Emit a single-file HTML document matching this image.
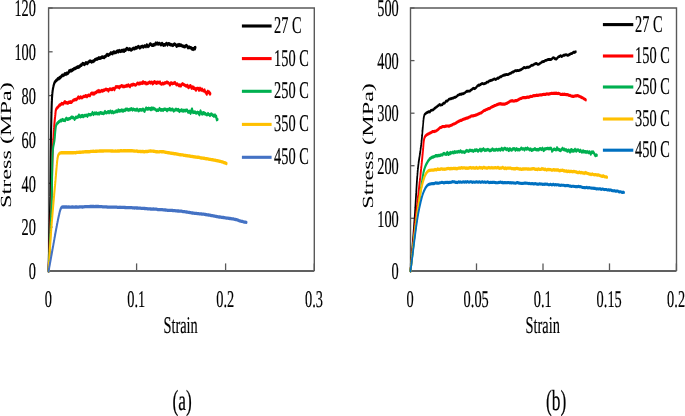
<!DOCTYPE html>
<html><head><meta charset="utf-8"><style>
html,body{margin:0;padding:0;background:#fff;}
svg{display:block;}
#w{width:685px;height:416px;will-change:transform;}
text{font-family:"Liberation Serif",serif;fill:#000;stroke:#000;stroke-width:0.8px;text-rendering:geometricPrecision;}
</style></head><body>
<div id="w"><svg width="685" height="416" viewBox="0 0 685 416">
<rect width="685" height="416" fill="#fff"/>
<polyline points="48.6,270.9 48.6,8.0 314.3,8.0 314.3,270.9" fill="none" stroke="#595959" stroke-width="1.4"/>
<line x1="48.6" y1="270.9" x2="52.6" y2="270.9" stroke="#595959" stroke-width="1.3"/>
<text transform="translate(36.0,279.2) scale(0.1440,0.2400)" text-anchor="end" font-size="100">0</text>
<line x1="48.6" y1="227.1" x2="52.6" y2="227.1" stroke="#595959" stroke-width="1.3"/>
<text transform="translate(36.0,235.38333333333333) scale(0.1440,0.2400)" text-anchor="end" font-size="100">20</text>
<line x1="48.6" y1="183.3" x2="52.6" y2="183.3" stroke="#595959" stroke-width="1.3"/>
<text transform="translate(36.0,191.56666666666666) scale(0.1440,0.2400)" text-anchor="end" font-size="100">40</text>
<line x1="48.6" y1="139.4" x2="52.6" y2="139.4" stroke="#595959" stroke-width="1.3"/>
<text transform="translate(36.0,147.75) scale(0.1440,0.2400)" text-anchor="end" font-size="100">60</text>
<line x1="48.6" y1="95.6" x2="52.6" y2="95.6" stroke="#595959" stroke-width="1.3"/>
<text transform="translate(36.0,103.93333333333332) scale(0.1440,0.2400)" text-anchor="end" font-size="100">80</text>
<line x1="48.6" y1="51.8" x2="52.6" y2="51.8" stroke="#595959" stroke-width="1.3"/>
<text transform="translate(36.0,60.11666666666666) scale(0.1440,0.2400)" text-anchor="end" font-size="100">100</text>
<line x1="48.6" y1="8.0" x2="52.6" y2="8.0" stroke="#595959" stroke-width="1.3"/>
<text transform="translate(36.0,16.3) scale(0.1440,0.2400)" text-anchor="end" font-size="100">120</text>
<line x1="48.6" y1="270.9" x2="48.6" y2="263.4" stroke="#595959" stroke-width="1.3"/>
<text transform="translate(48.300000000000004,307.3) scale(0.1440,0.2400)" text-anchor="middle" font-size="100">0</text>
<line x1="136.6" y1="270.9" x2="136.6" y2="263.4" stroke="#595959" stroke-width="1.3"/>
<text transform="translate(136.29999999999998,307.3) scale(0.1440,0.2400)" text-anchor="middle" font-size="100">0.1</text>
<line x1="225.6" y1="270.9" x2="225.6" y2="263.4" stroke="#595959" stroke-width="1.3"/>
<text transform="translate(225.29999999999998,307.3) scale(0.1440,0.2400)" text-anchor="middle" font-size="100">0.2</text>
<line x1="314.3" y1="270.9" x2="314.3" y2="263.4" stroke="#595959" stroke-width="1.3"/>
<text transform="translate(314.0,307.3) scale(0.1440,0.2400)" text-anchor="middle" font-size="100">0.3</text>
<line x1="48.6" y1="270.9" x2="314.3" y2="270.9" stroke="#606060" stroke-width="2"/>
<polyline transform="scale(0.6,1)" points="81.00,270.9 81.02,270.4 81.04,269.9 81.06,269.4 81.08,268.9 81.10,268.4 81.12,267.9 81.15,267.3 81.17,266.8 81.19,266.3 81.21,265.8 81.23,265.3 81.25,264.8 81.27,264.3 81.29,263.8 81.31,263.2 81.33,262.7 81.36,262.2 81.38,261.7 81.40,261.2 81.42,260.7 81.44,260.1 81.46,259.6 81.48,259.1 81.50,258.6 81.53,258.1 81.55,257.6 81.57,257.0 81.59,256.5 81.61,256.0 81.63,255.5 81.65,255.0 81.67,254.4 81.70,253.9 81.72,253.4 81.74,252.9 81.76,252.4 81.78,251.9 81.80,251.3 81.82,250.8 81.84,250.3 81.86,249.8 81.89,249.3 81.91,248.8 81.93,248.3 81.95,247.7 81.97,247.2 81.99,246.7 82.01,246.2 82.03,245.7 82.05,245.2 82.07,244.7 82.09,244.2 82.11,243.7 82.14,243.2 82.16,242.7 82.18,242.2 82.20,241.7 82.22,241.2 82.24,240.7 82.26,240.2 82.28,239.7 82.30,239.2 82.32,238.7 82.34,238.2 82.36,237.7 82.38,237.2 82.40,236.7 82.42,236.2 82.44,235.7 82.46,235.2 82.48,234.7 82.50,234.3 82.52,233.8 82.53,233.3 82.55,232.8 82.57,232.4 82.59,231.9 82.61,231.4 82.63,230.9 82.65,230.5 82.67,230.0 82.69,229.5 82.71,228.9 82.73,228.4 82.75,227.9 82.77,227.4 82.80,226.8 82.82,226.3 82.84,225.8 82.86,225.3 82.88,224.8 82.90,224.3 82.92,223.8 82.94,223.3 82.96,222.8 82.99,222.4 83.01,221.9 83.03,221.4 83.05,220.9 83.07,220.4 83.09,219.9 83.11,219.5 83.13,219.0 83.15,218.5 83.17,218.0 83.19,217.6 83.21,217.1 83.23,216.6 83.25,216.1 83.27,215.7 83.29,215.2 83.31,214.7 83.33,214.2 83.35,213.8 83.37,213.3 83.39,212.8 83.41,212.3 83.43,211.8 83.45,211.4 83.47,210.9 83.49,210.4 83.51,209.9 83.52,209.4 83.54,208.9 83.56,208.4 83.58,207.9 83.60,207.4 83.62,206.9 83.63,206.4 83.65,205.9 83.67,205.4 83.69,204.9 83.70,204.3 83.72,203.8 83.74,203.3 83.75,202.8 83.77,202.2 83.79,201.7 83.80,201.1 83.82,200.6 83.83,200.0 83.85,199.6 83.86,199.1 83.87,198.7 83.88,198.2 83.89,197.8 83.90,197.3 83.91,196.8 83.93,196.4 83.94,195.9 83.95,195.4 83.96,195.0 83.97,194.5 83.98,194.0 83.99,193.5 84.00,193.0 84.01,192.5 84.02,192.0 84.03,191.5 84.04,191.0 84.05,190.5 84.06,190.0 84.06,189.5 84.07,189.0 84.08,188.5 84.09,188.0 84.10,187.5 84.11,187.0 84.12,186.4 84.13,185.9 84.14,185.4 84.14,184.9 84.15,184.3 84.16,183.8 84.17,183.3 84.18,182.8 84.18,182.2 84.19,181.7 84.20,181.2 84.21,180.6 84.22,180.1 84.22,179.6 84.23,179.0 84.24,178.5 84.25,177.9 84.25,177.4 84.26,176.9 84.27,176.3 84.27,175.8 84.28,175.3 84.29,174.7 84.30,174.2 84.30,173.6 84.31,173.1 84.32,172.6 84.33,172.0 84.33,171.5 84.34,171.0 84.35,170.4 84.35,169.9 84.36,169.4 84.37,168.8 84.37,168.3 84.38,167.8 84.39,167.3 84.40,166.7 84.40,166.2 84.41,165.7 84.42,165.2 84.42,164.7 84.43,164.1 84.44,163.6 84.45,163.1 84.45,162.6 84.46,162.1 84.47,161.6 84.47,161.1 84.48,160.6 84.49,160.1 84.50,159.6 84.50,159.1 84.51,158.6 84.52,158.1 84.53,157.6 84.53,157.2 84.54,156.7 84.55,156.2 84.56,155.7 84.57,155.3 84.57,154.8 84.58,154.4 84.59,153.9 84.60,153.5 84.61,153.0 84.61,152.6 84.62,152.1 84.63,151.7 84.64,151.3 84.65,150.8 84.66,150.4 84.67,150.0 84.68,149.4 84.69,148.8 84.70,148.3 84.72,147.7 84.73,147.2 84.74,146.6 84.75,146.1 84.76,145.5 84.78,145.0 84.79,144.5 84.80,143.9 84.81,143.4 84.82,142.9 84.83,142.4 84.85,141.9 84.86,141.4 84.87,140.9 84.88,140.4 84.89,139.9 84.90,139.4 84.92,138.9 84.93,138.4 84.94,137.9 84.95,137.4 84.96,137.0 84.98,136.5 84.99,136.0 85.00,135.5 85.01,135.1 85.03,134.6 85.04,134.1 85.05,133.6 85.07,133.2 85.08,132.7 85.09,132.2 85.11,131.8 85.12,131.3 85.14,130.8 85.15,130.3 85.17,129.9 85.18,129.4 85.20,128.9 85.21,128.4 85.23,127.9 85.25,127.5 85.26,127.0 85.28,126.5 85.30,126.0 85.32,125.5 85.33,125.0 85.35,124.5 85.37,124.0 85.39,123.5 85.41,123.0 85.43,122.4 85.45,121.9 85.46,121.4 85.48,120.9 85.50,120.3 85.52,119.8 85.54,119.2 85.56,118.7 85.58,118.2 85.60,117.6 85.62,117.1 85.64,116.5 85.66,116.0 85.68,115.4 85.71,114.9 85.73,114.3 85.75,113.8 85.77,113.2 85.79,112.7 85.82,112.2 85.84,111.6 85.86,111.1 85.88,110.6 85.91,110.0 85.93,109.5 85.95,109.0 85.98,108.5 86.00,108.0 86.03,107.5 86.05,107.0 86.08,106.5 86.10,106.0 86.13,105.5 86.16,105.0 86.18,104.6 86.21,104.1 86.24,103.7 86.26,103.2 86.29,102.8 86.32,102.4 86.35,101.9 86.38,101.5 86.41,101.1 86.44,100.7 86.47,100.4 86.50,100.0 86.55,99.4 86.61,98.8 86.67,98.2 86.72,97.6 86.78,97.1 86.84,96.6 86.89,96.0 86.95,95.5 87.02,95.1 87.08,94.6 87.14,94.1 87.21,93.7 87.28,93.3 87.35,92.8 87.42,92.4 87.50,92.0 87.61,91.4 87.71,90.9 87.81,90.4 87.92,90.0 88.03,89.5 88.17,89.0 88.32,88.5 88.50,88.0 88.67,87.5 88.84,87.0 89.03,86.5 89.22,85.9 89.43,85.4 89.65,84.9 89.90,84.3 90.17,83.8 90.47,83.3 90.80,82.8 91.17,82.4 91.65,81.9 92.17,81.5 92.74,81.1 93.34,80.7 93.97,80.4 94.62,80.0 95.30,79.7 96.00,79.0 96.63,78.7 97.29,78.6 97.97,78.8 98.67,78.3 99.39,77.5 100.12,77.7 100.87,77.5 101.63,76.8 102.39,76.3 103.17,75.8 103.89,75.2 104.63,75.5 105.39,75.4 106.15,74.9 106.93,74.9 107.72,74.0 108.51,73.8 109.30,74.1 110.10,74.4 110.90,73.2 111.70,73.4 112.50,73.6 113.23,73.2 113.97,72.9 114.71,71.6 115.46,70.8 116.21,71.4 116.96,70.8 117.71,70.5 118.46,70.3 119.22,70.8 119.97,70.5 120.73,69.8 121.49,69.9 122.24,69.4 123.00,69.0 123.79,68.7 124.59,68.5 125.39,68.5 126.20,68.1 127.01,67.7 127.82,67.8 128.63,67.1 129.43,67.1 130.23,67.2 131.02,67.1 131.80,66.5 132.57,66.8 133.33,66.1 134.12,65.4 134.87,65.1 135.61,65.3 136.33,64.8 137.05,64.0 137.78,63.6 138.51,63.7 139.26,63.7 140.03,64.3 140.83,64.4 141.67,64.0 142.41,63.3 143.17,62.8 143.96,62.9 144.76,63.3 145.58,63.6 146.42,62.9 147.27,62.1 148.12,61.8 148.99,61.4 149.85,61.1 150.72,61.2 151.59,61.5 152.45,61.9 153.31,61.4 154.16,61.6 155.00,61.5 155.78,60.9 156.55,61.0 157.31,60.5 158.06,59.8 158.81,59.7 159.56,59.5 160.31,59.2 161.06,59.1 161.82,59.1 162.58,59.0 163.36,58.4 164.14,58.2 164.94,57.7 165.76,58.2 166.60,58.3 167.45,58.0 168.33,57.8 169.04,57.7 169.76,57.0 170.51,57.0 171.27,57.3 172.05,57.3 172.84,57.3 173.65,57.6 174.47,56.7 175.29,56.6 176.13,56.5 176.97,55.6 177.82,54.8 178.68,54.5 179.53,55.0 180.39,55.3 181.25,54.9 182.10,54.4 182.96,54.1 183.80,53.8 184.64,52.9 185.47,53.4 186.30,53.2 187.11,52.9 187.91,53.6 188.69,52.4 189.46,51.9 190.22,52.0 190.95,52.6 191.67,52.2 192.61,52.4 193.53,52.4 194.44,51.8 195.32,51.0 196.19,51.3 197.04,51.9 197.89,50.9 198.72,50.6 199.55,51.0 200.37,51.4 201.19,51.2 202.01,51.0 202.83,50.5 203.66,51.0 204.49,50.7 205.33,50.0 206.20,51.1 207.05,51.3 207.89,50.1 208.72,50.1 209.55,50.3 210.38,49.1 211.21,48.4 212.04,48.7 212.88,49.1 213.74,49.2 214.61,49.6 215.51,49.3 216.42,48.8 217.36,49.5 218.33,50.1 219.05,49.9 219.78,49.5 220.53,49.0 221.30,48.9 222.08,48.3 222.88,48.6 223.69,48.5 224.51,48.8 225.33,48.3 226.17,47.6 227.02,47.9 227.87,48.1 228.72,47.2 229.58,47.0 230.45,46.7 231.31,46.6 232.17,47.5 233.04,47.9 233.90,47.5 234.75,47.0 235.60,46.7 236.45,46.6 237.29,46.3 238.12,46.8 238.94,47.0 239.75,46.7 240.55,46.0 241.33,45.9 242.21,46.1 243.07,46.6 243.93,45.8 244.79,44.9 245.63,45.8 246.47,46.5 247.31,46.2 248.15,45.9 248.98,45.1 249.80,44.1 250.63,43.9 251.45,44.3 252.27,44.8 253.09,45.2 253.91,45.2 254.73,45.0 255.55,45.2 256.37,44.7 257.19,44.5 258.01,44.8 258.84,43.9 259.67,43.1 260.52,43.7 261.38,43.9 262.23,43.1 263.07,43.8 263.92,44.0 264.76,43.5 265.60,43.4 266.45,43.8 267.29,44.2 268.13,44.8 268.98,44.4 269.82,43.4 270.67,43.7 271.53,44.7 272.39,45.2 273.25,44.7 274.12,44.7 275.00,45.1 275.88,44.4 276.77,43.8 277.67,43.4 278.49,44.1 279.32,44.9 280.16,43.9 281.01,43.8 281.87,43.7 282.73,44.3 283.60,44.7 284.48,44.5 285.36,44.8 286.25,44.9 287.13,45.0 288.02,45.4 288.91,45.1 289.79,44.4 290.68,44.1 291.56,44.2 292.44,44.7 293.31,45.1 294.18,46.3 295.04,46.1 295.89,45.1 296.74,45.1 297.57,45.5 298.39,44.5 299.20,44.9 300.00,45.5 300.90,45.1 301.81,45.1 302.73,45.5 303.64,46.0 304.55,46.1 305.46,46.3 306.36,46.5 307.25,46.5 308.14,46.8 309.01,46.2 309.87,45.7 310.72,45.6 311.54,45.9 312.35,46.8 313.14,47.7 313.90,47.6 314.63,47.2 315.34,47.1 316.02,47.4 316.67,47.7 317.64,47.7 318.56,47.7 319.43,48.5 320.25,49.2 321.02,48.5 321.73,48.8 322.39,48.7 323.00,49.3 323.69,48.7 324.24,47.8 324.72,48.3 325.17,48.6 325.67,47.5" fill="none" stroke="#000000" stroke-width="3.5" stroke-linejoin="round" stroke-linecap="round"/>
<polyline transform="scale(0.6,1)" points="81.00,270.9 81.03,270.4 81.07,269.9 81.10,269.4 81.13,268.9 81.17,268.4 81.20,267.9 81.23,267.3 81.26,266.8 81.30,266.3 81.33,265.8 81.36,265.3 81.40,264.8 81.43,264.3 81.47,263.8 81.50,263.2 81.53,262.7 81.57,262.2 81.60,261.7 81.63,261.2 81.67,260.7 81.70,260.1 81.73,259.6 81.77,259.1 81.80,258.6 81.83,258.1 81.87,257.6 81.90,257.0 81.94,256.5 81.97,256.0 82.00,255.5 82.04,255.0 82.07,254.4 82.10,253.9 82.14,253.4 82.17,252.9 82.20,252.4 82.24,251.9 82.27,251.3 82.31,250.8 82.34,250.3 82.37,249.8 82.41,249.3 82.44,248.8 82.47,248.3 82.51,247.7 82.54,247.2 82.57,246.7 82.61,246.2 82.64,245.7 82.67,245.2 82.71,244.7 82.74,244.2 82.77,243.7 82.80,243.2 82.84,242.7 82.87,242.2 82.90,241.7 82.94,241.2 82.97,240.7 83.00,240.2 83.03,239.7 83.07,239.2 83.10,238.7 83.13,238.2 83.16,237.7 83.19,237.2 83.23,236.7 83.26,236.2 83.29,235.7 83.32,235.2 83.35,234.7 83.39,234.3 83.42,233.8 83.45,233.3 83.48,232.8 83.51,232.4 83.54,231.9 83.57,231.4 83.61,230.9 83.64,230.5 83.67,230.0 83.70,229.5 83.74,228.9 83.77,228.4 83.81,227.9 83.84,227.4 83.88,226.8 83.91,226.3 83.95,225.8 83.98,225.3 84.02,224.8 84.05,224.3 84.09,223.8 84.12,223.3 84.15,222.8 84.19,222.4 84.22,221.9 84.26,221.4 84.29,220.9 84.33,220.4 84.36,219.9 84.39,219.5 84.43,219.0 84.46,218.5 84.49,218.0 84.53,217.6 84.56,217.1 84.59,216.6 84.63,216.1 84.66,215.7 84.69,215.2 84.73,214.7 84.76,214.2 84.79,213.8 84.83,213.3 84.86,212.8 84.89,212.3 84.92,211.8 84.96,211.4 84.99,210.9 85.02,210.4 85.05,209.9 85.09,209.4 85.12,208.9 85.15,208.4 85.18,207.9 85.22,207.4 85.25,206.9 85.28,206.4 85.31,205.9 85.35,205.4 85.38,204.9 85.41,204.3 85.44,203.8 85.47,203.3 85.51,202.8 85.54,202.2 85.57,201.7 85.60,201.1 85.63,200.6 85.67,200.0 85.69,199.6 85.72,199.1 85.74,198.7 85.76,198.2 85.79,197.8 85.81,197.3 85.84,196.8 85.86,196.4 85.88,195.9 85.91,195.4 85.93,195.0 85.95,194.5 85.97,194.0 86.00,193.5 86.02,193.0 86.04,192.5 86.06,192.0 86.08,191.5 86.11,191.0 86.13,190.5 86.15,190.0 86.17,189.5 86.19,189.0 86.22,188.5 86.24,188.0 86.26,187.5 86.28,187.0 86.30,186.4 86.32,185.9 86.34,185.4 86.36,184.9 86.39,184.3 86.41,183.8 86.43,183.3 86.45,182.8 86.47,182.2 86.49,181.7 86.51,181.2 86.53,180.6 86.55,180.1 86.57,179.6 86.59,179.0 86.62,178.5 86.64,177.9 86.66,177.4 86.68,176.9 86.70,176.3 86.72,175.8 86.74,175.3 86.76,174.7 86.78,174.2 86.81,173.6 86.83,173.1 86.85,172.6 86.87,172.0 86.89,171.5 86.91,171.0 86.94,170.4 86.96,169.9 86.98,169.4 87.00,168.8 87.02,168.3 87.05,167.8 87.07,167.3 87.09,166.7 87.11,166.2 87.14,165.7 87.16,165.2 87.18,164.7 87.21,164.1 87.23,163.6 87.25,163.1 87.28,162.6 87.30,162.1 87.32,161.6 87.35,161.1 87.37,160.6 87.40,160.1 87.42,159.6 87.45,159.1 87.47,158.6 87.50,158.1 87.52,157.6 87.55,157.2 87.58,156.7 87.60,156.2 87.63,155.7 87.66,155.3 87.68,154.8 87.71,154.4 87.74,153.9 87.77,153.5 87.79,153.0 87.82,152.6 87.85,152.1 87.88,151.7 87.91,151.3 87.94,150.8 87.97,150.4 88.00,150.0 88.04,149.4 88.09,148.8 88.13,148.3 88.18,147.7 88.22,147.1 88.27,146.5 88.31,146.0 88.36,145.4 88.40,144.8 88.45,144.3 88.50,143.7 88.54,143.2 88.59,142.6 88.64,142.1 88.69,141.5 88.74,141.0 88.79,140.5 88.84,139.9 88.88,139.4 88.93,138.9 88.98,138.4 89.03,137.9 89.09,137.3 89.14,136.8 89.19,136.3 89.24,135.8 89.29,135.3 89.34,134.8 89.39,134.3 89.44,133.9 89.50,133.4 89.55,132.9 89.60,132.4 89.65,131.9 89.70,131.5 89.76,131.0 89.81,130.6 89.86,130.1 89.92,129.7 89.97,129.2 90.02,128.8 90.07,128.3 90.13,127.9 90.18,127.5 90.23,127.1 90.29,126.6 90.34,126.2 90.39,125.8 90.45,125.4 90.50,125.0 90.58,124.4 90.66,123.8 90.75,123.2 90.83,122.7 90.92,122.1 91.01,121.5 91.09,121.0 91.18,120.4 91.27,119.9 91.36,119.4 91.44,118.9 91.53,118.4 91.62,117.9 91.70,117.4 91.79,116.9 91.87,116.5 91.95,116.0 92.03,115.6 92.11,115.2 92.19,114.8 92.26,114.4 92.33,114.0 92.44,113.4 92.52,112.8 92.59,112.3 92.67,111.8 92.75,111.3 92.86,110.8 92.99,110.4 93.17,110.0 93.48,109.5 93.84,109.0 94.24,108.6 94.67,108.2 95.45,107.7 96.33,107.2 96.95,106.8 97.60,106.4 98.33,105.7 99.17,104.9 99.75,104.9 100.40,105.0 101.09,104.6 101.82,104.2 102.58,103.5 103.36,103.7 104.14,103.8 104.91,103.6 105.67,103.8 106.56,102.8 107.48,101.9 108.41,101.8 109.33,102.7 110.25,102.6 111.14,102.8 112.00,102.8 112.96,103.2 113.86,102.9 114.75,102.2 115.67,102.3 116.67,102.4 117.41,101.7 118.20,102.4 119.01,102.4 119.84,101.9 120.70,101.1 121.56,100.7 122.43,100.1 123.30,100.0 124.15,99.8 125.00,99.7 125.83,99.4 126.66,99.6 127.49,99.6 128.32,98.7 129.15,98.7 129.99,97.4 130.82,97.0 131.66,97.8 132.49,98.0 133.33,97.8 134.16,96.9 134.99,97.2 135.83,97.6 136.66,97.8 137.50,97.3 138.33,97.0 139.17,96.4 140.00,96.4 140.84,96.4 141.67,96.5 142.50,95.7 143.34,95.6 144.17,96.3 145.01,96.7 145.84,96.0 146.67,95.5 147.50,95.2 148.33,95.5 149.17,95.5 150.00,95.6 150.83,94.7 151.66,93.7 152.50,93.5 153.33,93.1 154.16,93.2 155.00,94.1 155.83,93.8 156.66,93.0 157.50,93.8 158.33,93.2 159.15,92.4 159.95,92.6 160.74,92.3 161.52,91.6 162.31,91.0 163.12,91.7 163.95,91.6 164.81,90.5 165.71,91.5 166.67,91.7 167.37,91.2 168.10,91.1 168.85,90.8 169.63,90.4 170.42,90.8 171.24,91.1 172.07,90.1 172.91,90.4 173.77,90.4 174.63,89.9 175.51,89.6 176.38,89.1 177.26,89.3 178.15,89.8 179.03,89.7 179.90,89.7 180.77,90.9 181.64,89.7 182.49,89.2 183.33,89.0 184.17,89.1 185.00,89.5 185.83,89.1 186.66,89.6 187.50,89.4 188.33,88.4 189.16,88.8 190.00,88.8 190.83,89.6 191.67,88.4 192.50,87.2 193.33,86.6 194.17,86.8 195.00,87.1 195.84,86.9 196.67,86.7 197.50,87.0 198.34,87.5 199.17,87.8 200.00,86.5 200.83,86.4 201.67,86.2 202.50,85.7 203.33,85.7 204.17,86.1 205.00,86.8 205.83,86.4 206.66,86.2 207.50,86.6 208.33,86.4 209.16,86.1 209.99,86.0 210.83,85.5 211.66,86.0 212.49,85.9 213.33,85.1 214.16,84.9 215.00,85.9 215.83,86.1 216.67,86.7 217.50,85.4 218.33,85.2 219.16,84.8 219.99,85.0 220.82,85.1 221.66,84.3 222.49,84.4 223.32,84.6 224.16,84.6 224.99,84.9 225.82,85.1 226.66,84.9 227.49,84.4 228.33,83.7 229.16,83.1 230.00,83.2 230.83,83.6 231.66,84.0 232.50,83.4 233.33,83.0 234.17,83.6 235.01,83.1 235.85,82.9 236.69,83.3 237.54,83.2 238.39,81.8 239.24,82.2 240.08,83.1 240.93,82.9 241.78,82.5 242.62,82.9 243.46,83.7 244.30,83.2 245.13,83.5 245.96,83.5 246.78,82.9 247.60,83.0 248.41,82.5 249.21,82.1 250.00,82.2 250.87,83.0 251.74,82.6 252.59,82.1 253.44,82.3 254.27,83.8 255.11,83.5 255.93,82.6 256.76,82.0 257.58,81.7 258.40,82.7 259.22,82.7 260.04,82.2 260.85,83.3 261.68,83.3 262.50,82.2 263.33,82.2 264.17,82.5 265.00,82.8 265.83,82.5 266.67,82.1 267.50,83.6 268.33,83.7 269.17,84.1 270.00,84.0 270.83,83.3 271.67,83.4 272.50,83.8 273.33,83.8 274.17,83.1 275.00,82.8 275.83,83.0 276.67,82.7 277.50,82.4 278.33,82.0 279.17,82.8 280.00,82.7 280.83,82.9 281.67,83.4 282.50,84.1 283.34,84.9 284.17,83.8 285.00,82.8 285.84,83.3 286.67,83.5 287.50,83.7 288.33,83.3 289.17,83.1 290.00,83.3 290.83,83.0 291.66,82.5 292.49,83.2 293.32,84.2 294.15,84.8 294.98,84.1 295.80,84.0 296.63,84.7 297.46,85.1 298.29,85.7 299.12,85.2 299.96,84.9 300.80,85.8 301.64,85.8 302.48,84.8 303.33,84.4 304.15,83.7 304.99,84.2 305.83,84.4 306.68,84.8 307.54,85.0 308.40,85.3 309.26,85.6 310.12,86.1 310.98,86.1 311.84,85.4 312.69,85.5 313.54,87.2 314.37,87.6 315.19,86.8 316.00,86.7 316.80,85.7 317.58,85.6 318.33,87.0 319.24,88.1 320.12,86.9 320.98,87.2 321.82,88.3 322.64,87.2 323.46,88.3 324.26,88.7 325.07,88.5 325.87,89.3 326.68,90.3 327.50,88.6 328.33,88.5 329.16,88.7 330.00,88.4 330.83,88.6 331.67,90.3 332.50,89.6 333.34,88.3 334.18,88.9 335.01,90.0 335.85,90.0 336.68,89.1 337.51,89.8 338.33,90.6 339.20,90.9 340.10,90.6 341.03,90.1 341.96,91.9 342.90,92.2 343.82,93.4 344.71,94.1 345.57,92.1 346.37,91.3 347.11,92.5 347.76,92.4 348.33,92.0 349.19,92.5 349.85,94.1 350.50,93.6" fill="none" stroke="#FF0000" stroke-width="3.4" stroke-linejoin="round" stroke-linecap="round"/>
<polyline transform="scale(0.6,1)" points="81.00,270.9 81.04,270.4 81.08,269.9 81.12,269.4 81.16,268.9 81.20,268.4 81.24,267.9 81.28,267.3 81.32,266.8 81.36,266.3 81.40,265.8 81.44,265.3 81.48,264.8 81.52,264.3 81.56,263.8 81.60,263.2 81.64,262.7 81.68,262.2 81.72,261.7 81.76,261.2 81.80,260.7 81.84,260.1 81.88,259.6 81.93,259.1 81.97,258.6 82.01,258.1 82.05,257.6 82.09,257.0 82.13,256.5 82.17,256.0 82.21,255.5 82.25,255.0 82.29,254.4 82.33,253.9 82.37,253.4 82.42,252.9 82.46,252.4 82.50,251.9 82.54,251.3 82.58,250.8 82.62,250.3 82.66,249.8 82.70,249.3 82.74,248.8 82.78,248.3 82.82,247.7 82.86,247.2 82.90,246.7 82.94,246.2 82.98,245.7 83.02,245.2 83.06,244.7 83.10,244.2 83.14,243.7 83.18,243.2 83.22,242.7 83.26,242.2 83.29,241.7 83.33,241.2 83.37,240.7 83.41,240.2 83.45,239.7 83.49,239.2 83.52,238.7 83.56,238.2 83.60,237.7 83.64,237.2 83.67,236.7 83.71,236.2 83.75,235.7 83.78,235.2 83.82,234.7 83.85,234.3 83.89,233.8 83.93,233.3 83.96,232.8 84.00,232.4 84.03,231.9 84.06,231.4 84.10,230.9 84.13,230.5 84.17,230.0 84.21,229.5 84.24,228.9 84.28,228.4 84.32,227.9 84.36,227.4 84.40,226.8 84.43,226.3 84.47,225.8 84.51,225.3 84.54,224.8 84.58,224.3 84.61,223.8 84.65,223.3 84.69,222.8 84.72,222.4 84.76,221.9 84.79,221.4 84.83,220.9 84.86,220.4 84.90,219.9 84.93,219.5 84.97,219.0 85.00,218.5 85.03,218.0 85.07,217.6 85.10,217.1 85.13,216.6 85.17,216.1 85.20,215.7 85.23,215.2 85.26,214.7 85.30,214.2 85.33,213.8 85.36,213.3 85.39,212.8 85.43,212.3 85.46,211.8 85.49,211.4 85.52,210.9 85.55,210.4 85.58,209.9 85.62,209.4 85.65,208.9 85.68,208.4 85.71,207.9 85.74,207.4 85.77,206.9 85.80,206.4 85.83,205.9 85.86,205.4 85.89,204.9 85.92,204.3 85.96,203.8 85.99,203.3 86.02,202.8 86.05,202.2 86.08,201.7 86.11,201.1 86.14,200.6 86.17,200.0 86.19,199.6 86.21,199.1 86.23,198.7 86.25,198.2 86.28,197.7 86.29,197.3 86.31,196.8 86.33,196.3 86.35,195.8 86.37,195.3 86.39,194.8 86.40,194.3 86.42,193.8 86.43,193.3 86.45,192.8 86.47,192.3 86.48,191.8 86.49,191.3 86.51,190.7 86.52,190.2 86.54,189.7 86.55,189.1 86.56,188.6 86.57,188.0 86.59,187.5 86.60,186.9 86.61,186.4 86.62,185.8 86.63,185.3 86.64,184.7 86.66,184.2 86.67,183.6 86.68,183.0 86.69,182.5 86.70,181.9 86.71,181.3 86.72,180.8 86.73,180.2 86.74,179.6 86.75,179.1 86.76,178.5 86.78,177.9 86.79,177.4 86.80,176.8 86.81,176.2 86.82,175.7 86.83,175.1 86.84,174.5 86.86,174.0 86.87,173.4 86.88,172.8 86.89,172.3 86.91,171.7 86.92,171.2 86.93,170.6 86.95,170.0 86.96,169.5 86.98,168.9 86.99,168.4 87.01,167.9 87.02,167.3 87.04,166.8 87.06,166.2 87.07,165.7 87.09,165.2 87.11,164.6 87.13,164.1 87.15,163.6 87.17,163.1 87.19,162.6 87.21,162.1 87.23,161.6 87.25,161.1 87.28,160.6 87.30,160.1 87.33,159.6 87.35,159.1 87.38,158.7 87.40,158.2 87.43,157.8 87.46,157.3 87.49,156.9 87.52,156.4 87.55,156.0 87.58,155.5 87.61,155.1 87.65,154.7 87.68,154.3 87.71,153.9 87.75,153.5 87.79,153.1 87.83,152.7 87.86,152.4 87.90,152.0 87.95,151.7 87.99,151.3 88.03,151.0 88.07,150.6 88.12,150.3 88.17,150.0 88.28,149.3 88.39,148.7 88.52,148.1 88.65,147.5 88.79,146.9 88.93,146.4 89.07,145.9 89.22,145.4 89.36,144.9 89.51,144.5 89.66,144.0 89.81,143.6 89.95,143.2 90.09,142.7 90.23,142.3 90.37,141.8 90.49,141.4 90.61,140.9 90.73,140.5 90.83,140.0 90.94,139.5 91.03,139.0 91.12,138.4 91.21,137.9 91.28,137.4 91.36,136.9 91.43,136.3 91.50,135.8 91.57,135.3 91.63,134.8 91.69,134.3 91.76,133.8 91.82,133.3 91.89,132.8 91.95,132.3 92.02,131.9 92.09,131.4 92.17,131.0 92.27,130.4 92.37,129.9 92.47,129.3 92.57,128.8 92.67,128.3 92.78,127.8 92.90,127.4 93.02,126.9 93.17,126.5 93.41,125.8 93.66,125.2 93.96,124.7 94.33,124.2 94.81,123.8 95.36,123.4 96.00,123.0 96.67,122.6 97.41,122.3 98.24,121.6 99.17,121.3 99.85,121.3 100.61,120.6 101.41,120.3 102.26,120.7 103.12,120.2 103.98,119.5 104.84,119.9 105.67,120.4 106.58,120.1 107.50,120.4 108.43,120.5 109.35,119.5 110.25,118.5 111.14,118.3 112.00,118.9 112.93,119.4 113.78,119.2 114.63,119.0 115.56,118.6 116.67,118.6 117.27,118.3 117.92,118.0 118.61,117.4 119.35,117.2 120.11,117.5 120.91,117.3 121.74,117.4 122.60,118.0 123.47,118.3 124.36,119.2 125.26,118.3 126.17,117.3 127.09,117.6 128.01,117.3 128.92,116.9 129.83,117.2 130.73,116.0 131.62,115.1 132.49,116.3 133.33,116.5 134.17,116.8 135.00,115.9 135.83,115.7 136.66,116.4 137.50,115.6 138.33,116.0 139.16,116.5 139.99,115.9 140.83,115.5 141.66,115.6 142.49,115.6 143.33,115.1 144.16,115.4 144.99,115.8 145.83,116.2 146.66,114.9 147.50,114.4 148.33,114.8 149.17,114.6 150.00,114.6 150.83,114.7 151.66,114.8 152.50,114.1 153.33,113.6 154.16,112.6 154.99,113.4 155.83,114.5 156.66,113.6 157.49,113.1 158.33,113.0 159.16,113.7 159.99,113.5 160.83,113.0 161.66,113.6 162.50,113.7 163.33,113.6 164.16,113.3 165.00,114.0 165.83,113.6 166.67,112.9 167.50,112.6 168.33,112.8 169.16,113.2 170.00,113.0 170.83,113.4 171.66,113.4 172.50,113.6 173.33,113.3 174.17,112.3 175.00,111.5 175.83,112.4 176.67,112.9 177.50,112.7 178.34,112.6 179.17,112.1 180.00,111.8 180.84,111.8 181.67,112.7 182.50,112.3 183.33,111.5 184.16,111.1 184.98,111.8 185.78,112.6 186.58,112.1 187.37,111.6 188.15,112.5 188.94,112.7 189.72,112.3 190.51,112.1 191.30,112.1 192.11,111.8 192.91,111.4 193.74,110.9 194.57,111.6 195.42,111.5 196.29,111.5 197.18,110.0 198.10,110.7 199.03,111.1 200.00,110.5 200.70,110.7 201.41,110.9 202.14,110.7 202.89,110.0 203.65,110.2 204.42,111.0 205.20,111.1 206.00,110.4 206.81,110.2 207.63,110.4 208.46,110.5 209.30,109.4 210.15,109.1 211.00,109.6 211.86,109.2 212.73,109.4 213.60,110.0 214.48,110.0 215.36,109.5 216.24,109.8 217.13,109.1 218.01,109.5 218.90,108.8 219.79,108.9 220.68,109.9 221.56,109.5 222.44,109.2 223.32,109.5 224.20,109.9 225.07,109.8 225.93,109.9 226.79,110.2 227.64,109.4 228.48,109.2 229.32,109.5 230.14,110.5 230.96,110.7 231.76,110.6 232.55,109.8 233.33,109.7 234.22,110.0 235.10,109.7 235.98,110.1 236.85,110.0 237.71,109.2 238.56,109.2 239.41,109.7 240.26,110.9 241.10,111.3 241.93,109.8 242.76,108.9 243.59,108.0 244.42,108.9 245.24,109.1 246.06,108.7 246.88,109.1 247.69,108.3 248.51,108.7 249.32,108.9 250.13,108.5 250.95,109.6 251.76,109.6 252.57,108.1 253.39,108.0 254.21,109.1 255.03,108.9 255.85,108.2 256.67,108.6 257.50,108.8 258.33,109.1 259.17,109.6 260.00,109.8 260.84,110.5 261.67,110.4 262.51,110.0 263.35,110.1 264.18,110.3 265.02,109.5 265.86,108.6 266.70,109.4 267.54,109.7 268.38,110.2 269.21,109.7 270.05,109.6 270.89,109.9 271.72,110.4 272.56,109.7 273.40,109.2 274.23,109.4 275.07,109.2 275.90,109.4 276.73,109.5 277.56,110.0 278.39,110.6 279.22,109.6 280.04,109.4 280.87,109.5 281.69,109.7 282.51,108.8 283.33,108.9 284.19,109.6 285.04,110.0 285.91,109.7 286.78,109.2 287.66,109.2 288.53,110.2 289.42,110.9 290.30,110.4 291.18,110.1 292.06,110.0 292.94,109.3 293.82,109.4 294.69,109.7 295.56,110.1 296.42,109.8 297.28,109.5 298.13,110.9 298.97,111.4 299.80,110.4 300.62,110.4 301.43,110.6 302.22,110.5 303.00,109.8 303.77,110.9 304.52,110.7 305.25,111.2 305.97,110.7 306.67,110.2 307.63,110.6 308.56,111.0 309.46,110.3 310.33,110.3 311.17,110.2 312.00,110.1 312.81,111.8 313.61,112.0 314.40,111.8 315.18,112.1 315.96,111.2 316.75,111.9 317.54,113.2 318.33,112.5 319.19,109.9 320.04,109.0 320.88,110.9 321.72,112.5 322.55,112.1 323.38,112.1 324.20,112.4 325.03,111.9 325.85,112.5 326.67,113.1 327.50,113.0 328.33,112.7 329.17,112.3 330.00,112.7 330.84,112.8 331.67,114.1 332.50,114.6 333.34,112.3 334.17,111.0 335.01,112.1 335.84,113.3 336.67,114.0 337.50,113.8 338.33,112.6 339.17,112.7 340.01,113.7 340.84,113.1 341.68,113.9 342.51,113.8 343.34,114.3 344.18,114.6 345.01,114.7 345.84,114.5 346.67,113.6 347.50,114.2 348.33,114.5 349.19,114.9 350.07,115.4 350.96,114.6 351.87,114.0 352.77,114.1 353.67,114.8 354.55,115.4 355.40,115.1 356.21,116.1 356.97,116.0 357.69,115.4 358.33,115.1 359.10,116.4 359.77,116.9 360.35,116.4 360.89,118.5 361.41,119.7 361.93,119.3 362.50,119.4" fill="none" stroke="#00B050" stroke-width="3.4" stroke-linejoin="round" stroke-linecap="round"/>
<polyline transform="scale(0.6,1)" points="81.00,270.9 81.05,270.4 81.11,269.9 81.16,269.4 81.21,268.9 81.27,268.4 81.32,267.9 81.37,267.3 81.43,266.8 81.48,266.3 81.53,265.8 81.58,265.3 81.64,264.8 81.69,264.3 81.74,263.8 81.79,263.2 81.85,262.7 81.90,262.2 81.95,261.7 82.00,261.2 82.06,260.7 82.11,260.1 82.16,259.6 82.21,259.1 82.27,258.6 82.32,258.1 82.37,257.5 82.42,257.0 82.48,256.5 82.53,256.0 82.58,255.5 82.63,255.0 82.69,254.4 82.74,253.9 82.79,253.4 82.84,252.9 82.89,252.4 82.95,251.9 83.00,251.3 83.05,250.8 83.10,250.3 83.16,249.8 83.21,249.3 83.26,248.8 83.32,248.3 83.37,247.7 83.42,247.2 83.47,246.7 83.53,246.2 83.58,245.7 83.63,245.2 83.69,244.7 83.74,244.2 83.79,243.7 83.85,243.2 83.90,242.7 83.95,242.2 84.01,241.7 84.06,241.2 84.12,240.7 84.17,240.2 84.22,239.7 84.28,239.2 84.33,238.7 84.39,238.2 84.44,237.7 84.50,237.2 84.55,236.7 84.61,236.2 84.66,235.7 84.72,235.2 84.77,234.7 84.83,234.3 84.88,233.8 84.94,233.3 84.99,232.8 85.05,232.4 85.11,231.9 85.16,231.4 85.22,230.9 85.28,230.5 85.33,230.0 85.40,229.5 85.47,228.9 85.53,228.4 85.60,227.9 85.67,227.3 85.74,226.8 85.80,226.3 85.87,225.7 85.94,225.2 86.01,224.7 86.08,224.1 86.15,223.6 86.22,223.1 86.29,222.6 86.36,222.0 86.43,221.5 86.50,221.0 86.57,220.5 86.64,219.9 86.71,219.4 86.78,218.9 86.85,218.4 86.92,217.9 87.00,217.4 87.07,216.9 87.14,216.4 87.21,215.8 87.28,215.3 87.35,214.8 87.42,214.3 87.50,213.8 87.57,213.3 87.64,212.8 87.71,212.3 87.78,211.8 87.85,211.3 87.92,210.8 87.99,210.4 88.07,209.9 88.14,209.4 88.21,208.9 88.28,208.4 88.35,207.9 88.42,207.4 88.49,207.0 88.56,206.5 88.63,206.0 88.69,205.5 88.76,205.1 88.83,204.6 88.90,204.1 88.97,203.7 89.04,203.2 89.10,202.7 89.17,202.3 89.24,201.8 89.30,201.4 89.37,200.9 89.43,200.5 89.50,200.0 89.58,199.5 89.66,198.9 89.74,198.4 89.82,197.8 89.90,197.3 89.97,196.8 90.05,196.2 90.13,195.7 90.21,195.2 90.29,194.6 90.37,194.1 90.44,193.6 90.52,193.1 90.60,192.6 90.67,192.1 90.75,191.6 90.83,191.1 90.90,190.6 90.98,190.1 91.06,189.6 91.13,189.1 91.21,188.6 91.28,188.1 91.36,187.6 91.43,187.1 91.50,186.6 91.58,186.1 91.65,185.7 91.72,185.2 91.80,184.7 91.87,184.2 91.94,183.8 92.01,183.3 92.08,182.8 92.15,182.3 92.22,181.9 92.29,181.4 92.36,180.9 92.43,180.5 92.50,180.0 92.58,179.5 92.66,178.9 92.73,178.4 92.81,177.8 92.89,177.3 92.96,176.8 93.04,176.2 93.11,175.7 93.19,175.2 93.26,174.6 93.33,174.1 93.41,173.6 93.48,173.0 93.55,172.5 93.62,172.0 93.70,171.5 93.77,171.0 93.84,170.5 93.91,170.0 93.98,169.5 94.05,169.0 94.12,168.5 94.19,168.1 94.26,167.6 94.33,167.1 94.39,166.7 94.46,166.3 94.53,165.8 94.60,165.4 94.67,165.0 94.76,164.4 94.85,163.8 94.94,163.3 95.02,162.7 95.10,162.2 95.19,161.7 95.27,161.2 95.35,160.7 95.44,160.2 95.54,159.7 95.64,159.3 95.75,158.8 95.87,158.4 96.00,158.0 96.19,157.4 96.38,156.9 96.58,156.3 96.80,155.8 97.05,155.3 97.33,154.9 97.67,154.5 98.34,153.9 99.12,153.4 100.00,153.1 100.75,152.9 101.56,152.9 102.43,152.8 103.33,152.8 104.07,152.7 104.82,152.8 105.59,152.8 106.41,152.8 107.32,152.8 108.33,152.8 108.95,152.7 109.61,152.7 110.31,152.7 111.04,152.7 111.82,152.8 112.62,152.8 113.45,152.8 114.30,152.8 115.17,152.7 116.06,152.7 116.96,152.7 117.87,152.8 118.78,152.8 119.70,152.8 120.61,152.7 121.51,152.7 122.41,152.7 123.29,152.6 124.16,152.6 125.00,152.7 125.83,152.7 126.67,152.7 127.50,152.5 128.33,152.4 129.17,152.4 130.00,152.4 130.83,152.4 131.67,152.3 132.50,152.3 133.33,152.3 134.17,152.2 135.00,152.2 135.83,152.1 136.67,152.1 137.50,152.0 138.33,152.1 139.17,152.0 140.00,151.9 140.83,151.9 141.67,151.8 142.50,151.8 143.33,151.7 144.17,151.7 145.00,151.6 145.83,151.7 146.67,151.8 147.50,151.8 148.33,151.8 149.17,151.7 150.00,151.6 150.83,151.5 151.67,151.4 152.50,151.4 153.33,151.4 154.17,151.4 155.00,151.3 155.83,151.3 156.67,151.4 157.50,151.4 158.33,151.4 159.17,151.3 160.00,151.2 160.83,151.2 161.65,151.2 162.48,151.1 163.31,151.1 164.13,151.1 164.96,151.1 165.79,151.0 166.62,151.0 167.45,150.9 168.28,151.0 169.11,151.0 169.94,151.0 170.78,151.0 171.62,151.0 172.46,151.0 173.30,150.9 174.15,150.9 175.00,150.9 175.81,150.9 176.63,150.9 177.44,150.9 178.25,150.9 179.06,150.9 179.88,150.9 180.69,150.9 181.51,150.9 182.33,150.9 183.15,150.9 183.97,150.9 184.80,151.0 185.63,151.0 186.47,150.9 187.31,151.0 188.15,151.0 189.00,151.1 189.85,151.1 190.71,151.1 191.58,151.1 192.45,151.0 193.33,151.1 194.12,151.1 194.92,151.1 195.73,151.0 196.55,150.9 197.38,151.0 198.22,151.0 199.06,151.0 199.91,150.9 200.76,150.8 201.62,150.8 202.48,150.8 203.34,150.9 204.21,150.9 205.07,150.8 205.93,150.8 206.79,150.7 207.65,150.7 208.51,150.8 209.36,150.8 210.21,150.9 211.04,150.8 211.88,150.7 212.70,150.7 213.52,150.6 214.32,150.7 215.11,150.8 215.90,150.7 216.67,150.7 217.57,150.8 218.47,150.8 219.36,150.8 220.25,150.7 221.13,150.9 222.01,150.9 222.88,151.0 223.74,151.0 224.59,151.1 225.44,151.1 226.28,151.1 227.11,151.1 227.92,151.0 228.73,151.2 229.53,151.3 230.32,151.5 231.09,151.4 231.85,151.4 232.60,151.4 233.33,151.5 234.26,151.5 235.16,151.5 236.03,151.6 236.89,151.5 237.73,151.4 238.55,151.5 239.36,151.7 240.16,151.8 240.96,151.7 241.75,151.6 242.54,151.5 243.33,151.6 244.20,151.5 245.04,151.5 245.87,151.5 246.69,151.4 247.50,151.3 248.32,151.1 249.14,151.1 249.96,151.0 250.81,151.0 251.67,151.0 252.47,151.1 253.29,151.1 254.12,151.1 254.97,151.1 255.81,151.2 256.66,151.3 257.52,151.4 258.36,151.5 259.21,151.6 260.04,151.7 260.86,151.8 261.67,151.9 262.53,151.8 263.37,151.9 264.20,151.9 265.02,151.9 265.84,151.8 266.65,151.6 267.47,151.6 268.30,151.6 269.14,151.7 270.00,151.6 270.80,151.7 271.62,151.7 272.44,151.8 273.27,151.9 274.11,152.0 274.95,152.1 275.79,152.2 276.63,152.4 277.48,152.4 278.32,152.5 279.16,152.6 280.00,152.7 280.83,152.7 281.66,152.8 282.50,152.9 283.33,153.0 284.17,153.1 285.00,153.2 285.83,153.2 286.67,153.3 287.50,153.4 288.33,153.5 289.17,153.5 290.00,153.7 290.83,153.8 291.64,153.8 292.44,153.8 293.24,153.9 294.04,154.0 294.84,154.0 295.65,154.1 296.48,154.3 297.32,154.4 298.19,154.5 299.08,154.6 300.00,154.7 300.74,154.7 301.49,154.8 302.27,154.9 303.06,154.9 303.87,154.9 304.69,154.9 305.52,155.1 306.36,155.3 307.21,155.4 308.07,155.4 308.93,155.5 309.79,155.5 310.66,155.6 311.53,155.7 312.40,155.8 313.26,155.9 314.12,155.9 314.98,156.0 315.83,156.0 316.67,156.2 317.50,156.3 318.33,156.4 319.17,156.4 320.00,156.5 320.83,156.5 321.67,156.6 322.50,156.7 323.33,156.8 324.17,156.9 325.00,157.0 325.84,157.0 326.67,157.1 327.50,157.1 328.34,157.2 329.17,157.3 330.00,157.3 330.84,157.3 331.67,157.4 332.50,157.5 333.33,157.7 334.17,157.9 335.00,158.0 335.84,158.0 336.67,158.0 337.50,158.1 338.34,158.1 339.17,158.2 340.00,158.3 340.84,158.3 341.67,158.5 342.50,158.6 343.34,158.7 344.17,158.7 345.00,158.8 345.84,158.9 346.67,158.9 347.50,159.1 348.33,159.2 349.17,159.4 350.00,159.4 350.84,159.4 351.68,159.6 352.54,159.6 353.39,159.7 354.26,159.7 355.12,159.9 355.99,160.0 356.85,160.1 357.71,160.1 358.57,160.3 359.43,160.3 360.27,160.5 361.11,160.6 361.95,160.7 362.77,160.8 363.58,160.9 364.37,161.0 365.15,161.1 365.92,161.2 366.67,161.3 367.58,161.4 368.47,161.6 369.34,161.8 370.19,161.9 371.02,162.0 371.84,162.2 372.65,162.5 373.45,162.7 374.25,162.7 375.05,162.8 375.86,163.0 376.67,163.3 377.50,163.5" fill="none" stroke="#FFC000" stroke-width="3.4" stroke-linejoin="round" stroke-linecap="round"/>
<polyline transform="scale(0.6,1)" points="81.00,270.9 81.15,270.4 81.31,269.9 81.46,269.4 81.62,268.9 81.78,268.4 81.94,267.9 82.09,267.3 82.25,266.8 82.41,266.3 82.57,265.8 82.74,265.2 82.90,264.7 83.06,264.2 83.23,263.6 83.39,263.1 83.55,262.5 83.72,262.0 83.89,261.4 84.05,260.9 84.22,260.3 84.39,259.8 84.55,259.2 84.72,258.7 84.89,258.1 85.06,257.5 85.23,257.0 85.40,256.4 85.57,255.8 85.74,255.3 85.91,254.7 86.08,254.1 86.25,253.6 86.42,253.0 86.59,252.4 86.76,251.9 86.93,251.3 87.10,250.7 87.27,250.1 87.44,249.6 87.61,249.0 87.78,248.4 87.95,247.9 88.12,247.3 88.29,246.7 88.46,246.2 88.63,245.6 88.80,245.0 88.97,244.5 89.14,243.9 89.31,243.3 89.48,242.8 89.65,242.2 89.81,241.7 89.98,241.1 90.15,240.5 90.31,240.0 90.48,239.4 90.64,238.9 90.81,238.3 90.97,237.8 91.14,237.3 91.30,236.7 91.46,236.2 91.62,235.7 91.78,235.1 91.95,234.6 92.10,234.1 92.26,233.6 92.42,233.0 92.58,232.5 92.73,232.0 92.89,231.5 93.04,231.0 93.20,230.5 93.35,230.0 93.50,229.5 93.65,229.1 93.80,228.6 93.95,228.1 94.10,227.6 94.25,227.2 94.39,226.7 94.54,226.3 94.68,225.8 94.82,225.4 94.96,224.9 95.10,224.5 95.24,224.1 95.37,223.6 95.51,223.2 95.64,222.8 95.78,222.4 95.91,222.0 96.04,221.6 96.17,221.2 96.29,220.8 96.42,220.5 96.54,220.1 96.66,219.7 96.79,219.4 96.90,219.0 97.02,218.7 97.14,218.4 97.25,218.1 97.36,217.7 97.47,217.4 97.58,217.1 97.69,216.8 97.80,216.5 97.90,216.3 98.00,216.0 98.27,215.3 98.52,214.6 98.77,214.0 99.00,213.4 99.22,212.8 99.44,212.2 99.65,211.7 99.85,211.2 100.06,210.8 100.26,210.4 100.47,210.0 100.68,209.6 100.89,209.2 101.11,208.9 101.33,208.6 101.86,208.0 102.39,207.5 103.00,207.2 103.93,207.0 105.00,207.0 105.70,207.0 106.42,207.0 107.26,207.0 108.33,207.0 108.81,207.0 109.34,207.0 109.91,207.0 110.54,207.0 111.21,207.0 111.93,207.0 112.68,207.1 113.46,207.1 114.28,207.0 115.13,207.0 116.01,207.1 116.90,207.1 117.82,207.1 118.75,207.1 119.70,207.0 120.65,207.0 121.62,207.0 122.58,207.1 123.55,207.1 124.51,207.1 125.47,207.0 126.42,207.0 127.36,207.0 128.29,207.0 129.19,207.1 130.07,207.1 130.93,207.1 131.77,207.0 132.57,206.9 133.33,206.9 134.24,206.9 135.14,206.9 136.02,206.9 136.88,207.0 137.74,207.0 138.58,206.9 139.42,206.9 140.24,206.8 141.06,206.7 141.88,206.6 142.69,206.7 143.49,206.7 144.30,206.7 145.11,206.6 145.91,206.6 146.72,206.7 147.53,206.7 148.35,206.6 149.17,206.6 150.00,206.5 150.83,206.5 151.67,206.4 152.50,206.5 153.33,206.5 154.17,206.5 155.00,206.5 155.83,206.5 156.67,206.5 157.50,206.6 158.33,206.6 159.17,206.5 160.00,206.4 160.83,206.5 161.67,206.5 162.50,206.5 163.33,206.4 164.17,206.5 165.00,206.6 165.83,206.6 166.67,206.6 167.50,206.6 168.33,206.7 169.17,206.7 170.00,206.7 170.83,206.8 171.67,206.9 172.50,206.9 173.33,206.9 174.17,206.9 175.00,206.9 175.83,206.8 176.67,206.9 177.50,206.9 178.33,207.0 179.17,207.1 180.00,207.1 180.83,207.1 181.67,207.1 182.50,207.2 183.33,207.1 184.16,207.1 184.98,207.1 185.80,207.1 186.61,207.1 187.42,207.1 188.23,207.2 189.03,207.2 189.84,207.1 190.65,207.1 191.46,207.2 192.27,207.2 193.09,207.2 193.92,207.2 194.75,207.2 195.60,207.3 196.45,207.3 197.32,207.3 198.20,207.3 199.09,207.3 200.00,207.2 200.75,207.3 201.52,207.3 202.30,207.3 203.08,207.3 203.87,207.3 204.68,207.3 205.49,207.4 206.31,207.4 207.13,207.4 207.96,207.5 208.80,207.5 209.64,207.6 210.48,207.6 211.33,207.6 212.19,207.6 213.04,207.6 213.90,207.6 214.76,207.6 215.62,207.7 216.48,207.7 217.34,207.7 218.20,207.7 219.06,207.7 219.92,207.7 220.78,207.8 221.63,207.8 222.48,207.9 223.32,207.9 224.16,208.0 225.00,207.9 225.83,207.9 226.67,207.9 227.50,208.0 228.33,208.0 229.17,208.0 230.00,208.1 230.83,208.1 231.67,208.1 232.50,208.1 233.33,208.1 234.17,208.2 235.00,208.3 235.83,208.3 236.67,208.3 237.50,208.4 238.33,208.4 239.17,208.4 240.00,208.4 240.83,208.5 241.67,208.5 242.50,208.6 243.33,208.6 244.17,208.6 245.00,208.6 245.83,208.8 246.67,208.8 247.50,208.8 248.33,208.8 249.17,208.8 250.00,208.9 250.83,209.0 251.66,209.0 252.49,209.1 253.32,209.1 254.15,209.1 254.98,209.0 255.80,209.0 256.63,209.1 257.45,209.1 258.28,209.2 259.10,209.2 259.93,209.2 260.75,209.2 261.58,209.3 262.40,209.5 263.23,209.6 264.06,209.6 264.89,209.6 265.72,209.7 266.55,209.7 267.39,209.6 268.22,209.6 269.06,209.7 269.90,209.7 270.74,209.7 271.59,209.8 272.44,209.8 273.29,209.9 274.14,209.9 275.00,210.0 275.81,210.0 276.63,210.1 277.45,210.2 278.28,210.2 279.11,210.3 279.94,210.3 280.78,210.3 281.63,210.3 282.47,210.3 283.32,210.3 284.17,210.3 285.03,210.3 285.88,210.4 286.73,210.4 287.59,210.5 288.44,210.6 289.30,210.6 290.15,210.6 291.00,210.7 291.86,210.7 292.70,210.8 293.55,210.8 294.39,210.9 295.23,210.9 296.07,211.0 296.90,211.0 297.72,211.0 298.54,211.1 299.36,211.1 300.17,211.2 300.97,211.2 301.76,211.1 302.55,211.2 303.33,211.3 304.22,211.5 305.11,211.6 305.98,211.7 306.86,211.7 307.73,211.7 308.59,211.8 309.46,211.8 310.31,212.0 311.16,212.0 312.01,212.1 312.85,212.2 313.69,212.3 314.53,212.4 315.36,212.4 316.18,212.5 317.01,212.6 317.82,212.7 318.64,212.8 319.45,212.9 320.25,213.0 321.05,213.0 321.85,213.1 322.64,213.1 323.43,213.2 324.22,213.3 325.00,213.3 325.88,213.3 326.75,213.4 327.62,213.4 328.47,213.6 329.32,213.6 330.16,213.6 330.99,213.7 331.82,213.8 332.65,213.9 333.47,213.9 334.29,213.9 335.11,213.9 335.92,214.0 336.74,214.1 337.56,214.2 338.37,214.2 339.19,214.2 340.01,214.2 340.84,214.3 341.67,214.5 342.50,214.5 343.34,214.6 344.17,214.6 345.00,214.8 345.84,214.9 346.67,214.9 347.51,215.0 348.34,215.0 349.17,215.2 350.00,215.2 350.84,215.4 351.67,215.5 352.50,215.6 353.33,215.6 354.17,215.7 355.00,215.8 355.83,215.9 356.67,216.0 357.50,216.1 358.33,216.2 359.17,216.3 360.00,216.4 360.83,216.5 361.66,216.6 362.50,216.7 363.33,216.8 364.16,216.9 365.00,217.0 365.83,217.0 366.66,217.0 367.50,217.1 368.33,217.2 369.16,217.3 370.00,217.4 370.83,217.4 371.67,217.5 372.50,217.5 373.33,217.6 374.17,217.7 375.00,217.8 375.84,217.8 376.69,218.0 377.56,218.1 378.43,218.1 379.30,218.1 380.19,218.2 381.07,218.4 381.95,218.4 382.83,218.5 383.70,218.5 384.57,218.6 385.43,218.7 386.27,218.8 387.10,218.8 387.92,218.8 388.71,218.9 389.49,219.0 390.24,219.2 390.97,219.3 391.67,219.4 392.62,219.5 393.51,219.6 394.36,219.7 395.16,219.9 395.95,220.0 396.73,220.2 397.51,220.4 398.31,220.6 399.13,220.8 400.00,220.9 400.78,221.1 401.58,221.2 402.40,221.3 403.22,221.3 404.06,221.4 404.90,221.6 405.75,221.8 406.60,222.0 407.45,222.1 408.30,222.1 409.15,222.2 410.00,222.3 410.83,222.4" fill="none" stroke="#4472C4" stroke-width="3.3" stroke-linejoin="round" stroke-linecap="round"/>
<line x1="241.9" y1="26.0" x2="271.6" y2="26.0" stroke="#000000" stroke-width="3.1"/>
<text transform="translate(274.0,32.9) scale(0.1440,0.2400)" text-anchor="start" font-size="100">27 C</text>
<line x1="241.9" y1="58.6" x2="271.6" y2="58.6" stroke="#FF0000" stroke-width="3.1"/>
<text transform="translate(274.0,65.5) scale(0.1440,0.2400)" text-anchor="start" font-size="100">150 C</text>
<line x1="241.9" y1="91.3" x2="271.6" y2="91.3" stroke="#00B050" stroke-width="3.1"/>
<text transform="translate(274.0,98.2) scale(0.1440,0.2400)" text-anchor="start" font-size="100">250 C</text>
<line x1="241.9" y1="124.4" x2="271.6" y2="124.4" stroke="#FFC000" stroke-width="3.1"/>
<text transform="translate(274.0,131.3) scale(0.1440,0.2400)" text-anchor="start" font-size="100">350 C</text>
<line x1="241.9" y1="157.3" x2="271.6" y2="157.3" stroke="#4472C4" stroke-width="3.1"/>
<text transform="translate(274.0,164.20000000000002) scale(0.1440,0.2400)" text-anchor="start" font-size="100">450 C</text>
<text transform="translate(180.6,332.8) scale(0.1440,0.2400)" text-anchor="middle" font-size="100">Strain</text>
<text transform="translate(11.2,145.1) rotate(-90) scale(1,0.64)" text-anchor="middle" font-size="24.2" style="stroke:none">Stress (MPa)</text>
<text transform="translate(182.1,410.0) scale(0.1740,0.2900)" text-anchor="middle" font-size="100">(a)</text>
<polyline points="410.5,270.9 410.5,8.0 676.5,8.0 676.5,270.9" fill="none" stroke="#595959" stroke-width="1.4"/>
<line x1="410.5" y1="270.9" x2="414.5" y2="270.9" stroke="#595959" stroke-width="1.3"/>
<text transform="translate(398.8,279.2) scale(0.1440,0.2400)" text-anchor="end" font-size="100">0</text>
<line x1="410.5" y1="218.3" x2="414.5" y2="218.3" stroke="#595959" stroke-width="1.3"/>
<text transform="translate(398.8,226.62) scale(0.1440,0.2400)" text-anchor="end" font-size="100">100</text>
<line x1="410.5" y1="165.7" x2="414.5" y2="165.7" stroke="#595959" stroke-width="1.3"/>
<text transform="translate(398.8,174.04) scale(0.1440,0.2400)" text-anchor="end" font-size="100">200</text>
<line x1="410.5" y1="113.2" x2="414.5" y2="113.2" stroke="#595959" stroke-width="1.3"/>
<text transform="translate(398.8,121.46) scale(0.1440,0.2400)" text-anchor="end" font-size="100">300</text>
<line x1="410.5" y1="60.6" x2="414.5" y2="60.6" stroke="#595959" stroke-width="1.3"/>
<text transform="translate(398.8,68.87999999999998) scale(0.1440,0.2400)" text-anchor="end" font-size="100">400</text>
<line x1="410.5" y1="8.0" x2="414.5" y2="8.0" stroke="#595959" stroke-width="1.3"/>
<text transform="translate(398.8,16.3) scale(0.1440,0.2400)" text-anchor="end" font-size="100">500</text>
<line x1="410.5" y1="270.9" x2="410.5" y2="263.4" stroke="#595959" stroke-width="1.3"/>
<text transform="translate(410.2,307.3) scale(0.1440,0.2400)" text-anchor="middle" font-size="100">0</text>
<line x1="476.5" y1="270.9" x2="476.5" y2="263.4" stroke="#595959" stroke-width="1.3"/>
<text transform="translate(476.2,307.3) scale(0.1440,0.2400)" text-anchor="middle" font-size="100">0.05</text>
<line x1="543.0" y1="270.9" x2="543.0" y2="263.4" stroke="#595959" stroke-width="1.3"/>
<text transform="translate(542.7,307.3) scale(0.1440,0.2400)" text-anchor="middle" font-size="100">0.1</text>
<line x1="609.5" y1="270.9" x2="609.5" y2="263.4" stroke="#595959" stroke-width="1.3"/>
<text transform="translate(609.2,307.3) scale(0.1440,0.2400)" text-anchor="middle" font-size="100">0.15</text>
<line x1="676.4" y1="270.9" x2="676.4" y2="263.4" stroke="#595959" stroke-width="1.3"/>
<text transform="translate(676.1,307.3) scale(0.1440,0.2400)" text-anchor="middle" font-size="100">0.2</text>
<line x1="410.5" y1="270.9" x2="676.5" y2="270.9" stroke="#606060" stroke-width="2"/>
<polyline transform="scale(0.6,1)" points="684.17,270.9 684.23,270.4 684.30,269.9 684.36,269.4 684.43,268.9 684.49,268.4 684.56,267.9 684.63,267.4 684.69,266.9 684.76,266.4 684.82,265.9 684.89,265.4 684.96,264.9 685.02,264.4 685.09,263.9 685.16,263.4 685.22,262.9 685.29,262.4 685.35,261.9 685.42,261.4 685.49,260.9 685.55,260.4 685.62,259.9 685.69,259.4 685.75,258.9 685.82,258.4 685.89,257.9 685.95,257.4 686.02,256.9 686.09,256.4 686.15,255.9 686.22,255.4 686.29,255.0 686.35,254.5 686.42,254.0 686.49,253.5 686.56,253.0 686.62,252.5 686.69,252.0 686.76,251.5 686.82,251.0 686.89,250.5 686.96,250.0 687.02,249.5 687.09,249.0 687.16,248.5 687.22,248.0 687.29,247.5 687.36,247.0 687.42,246.5 687.49,246.0 687.56,245.5 687.62,245.0 687.69,244.5 687.75,244.0 687.82,243.5 687.89,243.0 687.95,242.5 688.02,242.0 688.09,241.5 688.15,241.0 688.22,240.5 688.28,240.0 688.35,239.5 688.41,239.0 688.48,238.5 688.55,238.0 688.61,237.5 688.68,237.0 688.74,236.5 688.81,236.0 688.87,235.5 688.94,235.0 689.00,234.5 689.07,234.0 689.13,233.5 689.20,233.0 689.26,232.5 689.33,232.0 689.39,231.5 689.45,231.0 689.52,230.5 689.58,230.0 689.65,229.5 689.71,229.0 689.77,228.5 689.84,228.0 689.90,227.5 689.96,227.0 690.03,226.5 690.09,226.0 690.15,225.5 690.22,225.0 690.28,224.5 690.34,224.0 690.40,223.5 690.46,223.0 690.53,222.5 690.59,222.0 690.65,221.5 690.71,221.0 690.77,220.5 690.83,220.0 690.89,219.5 690.95,219.0 691.01,218.5 691.07,218.0 691.13,217.5 691.19,217.0 691.25,216.5 691.31,215.9 691.37,215.4 691.42,214.9 691.48,214.4 691.54,213.9 691.60,213.3 691.65,212.8 691.71,212.3 691.77,211.8 691.82,211.2 691.88,210.7 691.93,210.2 691.99,209.6 692.04,209.1 692.10,208.6 692.15,208.0 692.21,207.5 692.26,206.9 692.32,206.4 692.37,205.9 692.43,205.3 692.48,204.8 692.54,204.2 692.59,203.7 692.64,203.2 692.70,202.6 692.75,202.1 692.81,201.5 692.86,201.0 692.91,200.4 692.97,199.9 693.02,199.4 693.07,198.8 693.13,198.3 693.18,197.7 693.23,197.2 693.29,196.6 693.34,196.1 693.39,195.6 693.45,195.0 693.50,194.5 693.55,193.9 693.60,193.4 693.66,192.9 693.71,192.3 693.76,191.8 693.82,191.3 693.87,190.8 693.92,190.2 693.98,189.7 694.03,189.2 694.08,188.6 694.14,188.1 694.19,187.6 694.24,187.1 694.30,186.6 694.35,186.1 694.41,185.5 694.46,185.0 694.51,184.5 694.57,184.0 694.62,183.5 694.68,183.0 694.73,182.5 694.79,182.0 694.84,181.5 694.90,181.0 694.95,180.6 695.01,180.1 695.07,179.6 695.12,179.1 695.18,178.6 695.23,178.2 695.29,177.7 695.35,177.2 695.40,176.8 695.46,176.3 695.52,175.9 695.58,175.4 695.64,175.0 695.69,174.5 695.75,174.1 695.81,173.6 695.87,173.2 695.93,172.8 695.99,172.4 696.05,171.9 696.11,171.5 696.17,171.1 696.23,170.7 696.29,170.3 696.35,169.9 696.42,169.5 696.48,169.1 696.54,168.7 696.60,168.4 696.67,168.0 696.78,167.4 696.89,166.8 697.00,166.2 697.12,165.6 697.23,165.0 697.35,164.4 697.47,163.8 697.59,163.3 697.71,162.7 697.83,162.2 697.96,161.6 698.08,161.1 698.20,160.6 698.33,160.1 698.45,159.6 698.57,159.1 698.70,158.6 698.82,158.1 698.95,157.6 699.07,157.1 699.19,156.7 699.31,156.2 699.43,155.7 699.55,155.3 699.67,154.8 699.78,154.4 699.90,153.9 700.01,153.5 700.12,153.0 700.23,152.6 700.34,152.2 700.44,151.7 700.54,151.3 700.64,150.9 700.74,150.4 700.83,150.0 700.95,149.4 701.07,148.9 701.19,148.4 701.30,147.8 701.40,147.3 701.51,146.9 701.61,146.4 701.71,145.9 701.81,145.4 701.90,144.9 702.00,144.5 702.09,144.0 702.19,143.5 702.28,143.1 702.37,142.6 702.46,142.1 702.55,141.6 702.65,141.1 702.74,140.5 702.83,140.0 702.91,139.5 702.99,139.1 703.06,138.6 703.14,138.1 703.22,137.6 703.29,137.1 703.37,136.6 703.44,136.1 703.52,135.6 703.59,135.0 703.66,134.5 703.74,134.0 703.81,133.4 703.88,132.9 703.96,132.4 704.03,131.8 704.10,131.3 704.17,130.8 704.24,130.3 704.31,129.7 704.38,129.2 704.45,128.7 704.52,128.2 704.59,127.7 704.66,127.2 704.73,126.8 704.80,126.3 704.87,125.9 704.93,125.4 705.00,125.0 705.09,124.4 705.18,123.8 705.27,123.3 705.35,122.7 705.43,122.2 705.51,121.6 705.59,121.1 705.67,120.6 705.76,120.1 705.84,119.6 705.93,119.2 706.02,118.7 706.12,118.3 706.22,117.9 706.33,117.5 706.53,116.8 706.72,116.3 706.93,115.7 707.18,115.2 707.50,114.8 707.97,114.3 708.52,114.0 709.17,113.6 709.87,113.3 710.67,112.9 711.55,112.6 712.50,112.3 713.18,112.2 713.92,111.9 714.71,111.6 715.53,111.7 716.35,112.0 717.16,111.4 717.94,110.4 718.67,110.4 719.50,110.3 720.30,110.1 721.06,109.9 721.82,109.9 722.57,109.5 723.33,109.0 724.00,108.5 724.66,108.1 725.32,108.0 725.99,107.8 726.65,107.3 727.32,106.9 728.00,106.9 728.76,106.4 729.53,106.0 730.30,105.6 731.08,105.3 731.87,104.9 732.67,104.5 733.61,105.0 734.58,105.0 735.56,104.9 736.49,104.9 737.33,104.7 738.03,104.1 738.65,103.3 739.22,103.2 739.82,103.2 740.50,103.2 741.22,103.0 742.01,102.4 742.83,101.5 743.65,101.0 744.44,101.2 745.17,101.1 745.99,100.8 746.74,100.2 747.49,99.7 748.33,99.1 749.18,99.1 750.08,98.9 751.03,98.8 752.01,98.7 753.00,98.4 753.84,98.2 754.71,98.1 755.59,98.0 756.49,97.7 757.39,97.3 758.29,97.1 759.17,97.2 759.97,96.8 760.76,96.6 761.54,96.2 762.32,95.6 763.11,95.2 763.90,95.1 764.69,94.9 765.50,94.7 766.37,94.2 767.25,94.1 768.14,94.3 769.04,94.3 769.93,93.7 770.81,93.9 771.67,93.8 772.46,93.6 773.25,93.2 774.03,93.1 774.80,92.9 775.57,92.4 776.33,92.0 777.08,91.7 777.83,91.3 778.79,91.3 779.73,91.2 780.67,91.1 781.59,91.1 782.50,91.1 783.23,91.0 783.94,90.5 784.64,90.1 785.33,90.0 786.03,89.6 786.75,89.3 787.50,88.9 788.35,88.5 789.25,88.3 790.16,88.4 791.06,88.7 791.91,88.4 792.67,88.0 793.38,87.7 793.95,87.2 794.49,86.9 795.09,86.2 795.83,85.8 796.45,85.8 797.14,85.5 797.89,85.0 798.69,85.2 799.51,85.2 800.35,84.5 801.18,84.5 801.99,84.0 802.77,83.7 803.50,83.6 804.54,83.5 805.56,83.9 806.54,83.9 807.47,83.7 808.33,83.5 809.12,83.1 809.78,83.1 810.48,82.9 811.33,82.1 811.92,82.0 812.58,82.1 813.30,82.1 814.06,81.9 814.86,81.2 815.69,80.9 816.54,80.8 817.39,80.5 818.24,80.3 819.08,80.4 819.89,80.3 820.67,79.9 821.56,79.6 822.46,79.4 823.35,79.0 824.24,79.0 825.13,79.1 826.00,79.5 826.85,79.3 827.69,78.9 828.50,78.5 829.32,78.0 830.12,78.3 830.89,78.3 831.64,77.7 832.39,77.5 833.14,77.2 833.89,76.6 834.67,76.8 835.45,76.7 836.25,76.3 837.06,75.9 837.86,75.7 838.67,75.2 839.46,75.2 840.24,75.2 841.00,74.8 841.97,75.0 842.91,74.7 843.84,74.4 844.76,74.6 845.67,74.6 846.45,74.5 847.20,74.3 847.94,74.3 848.70,73.9 849.49,73.6 850.33,73.3 851.03,73.1 851.75,73.2 852.50,72.8 853.27,72.3 854.06,72.0 854.86,72.2 855.68,72.0 856.50,71.5 857.33,71.3 858.17,70.9 858.98,70.6 859.83,70.6 860.69,70.8 861.58,70.7 862.47,70.5 863.35,70.6 864.23,70.6 865.09,70.4 865.93,70.3 866.74,70.0 867.50,69.8 868.35,69.7 869.15,69.4 869.92,69.1 870.66,68.6 871.40,68.5 872.13,68.0 872.88,67.6 873.67,67.4 874.52,67.6 875.37,67.9 876.23,67.9 877.10,67.7 877.99,67.2 878.90,67.2 879.83,67.2 880.59,67.1 881.38,67.2 882.20,67.0 883.05,66.6 883.90,66.4 884.76,65.8 885.62,65.4 886.46,65.3 887.27,65.3 888.06,65.1 888.80,65.0 889.50,64.7 890.53,64.1 891.49,63.9 892.39,63.8 893.28,63.4 894.17,63.5 895.19,64.0 896.21,64.3 897.20,64.3 898.17,64.1 898.93,63.9 899.63,63.7 900.34,63.1 901.10,62.9 902.00,62.6 902.68,62.1 903.43,61.8 904.24,61.8 905.10,61.7 905.98,61.5 906.89,61.3 907.81,61.0 908.72,60.5 909.62,60.4 910.50,60.4 911.33,60.1 912.25,59.7 913.17,59.6 914.10,59.5 915.02,59.5 915.92,59.3 916.79,59.5 917.63,59.6 918.43,59.2 919.17,59.2 920.04,58.7 920.83,58.2 921.57,57.9 922.29,57.8 923.00,57.9 923.80,58.0 924.56,58.7 925.33,59.0 926.17,58.7 926.88,59.1 927.63,59.0 928.42,58.3 929.23,57.9 930.05,57.2 930.87,56.9 931.67,56.5 932.60,56.5 933.54,55.9 934.48,55.7 935.41,56.3 936.33,56.6 937.11,56.0 937.87,55.8 938.62,55.5 939.38,55.2 940.17,55.2 941.00,55.2 941.83,54.7 942.72,54.9 943.63,54.9 944.55,54.8 945.46,55.3 946.34,55.4 947.17,54.9 947.99,55.0 948.74,54.6 949.47,54.3 950.21,54.2 950.98,53.8 951.83,53.5 952.60,53.6 953.42,53.5 954.28,53.0 955.16,52.4 956.06,52.2 956.97,52.5 957.88,52.2 958.78,52.0 959.67,51.8" fill="none" stroke="#000000" stroke-width="2.9" stroke-linejoin="round" stroke-linecap="round"/>
<polyline transform="scale(0.6,1)" points="684.17,270.9 684.25,270.4 684.33,269.9 684.41,269.4 684.49,268.9 684.57,268.4 684.66,267.9 684.74,267.4 684.82,266.9 684.90,266.4 684.98,265.9 685.06,265.4 685.14,264.9 685.22,264.4 685.30,263.9 685.39,263.4 685.47,262.9 685.55,262.4 685.63,261.9 685.71,261.4 685.79,260.9 685.87,260.4 685.95,259.9 686.03,259.4 686.11,258.9 686.19,258.4 686.27,257.9 686.35,257.4 686.43,256.9 686.51,256.4 686.59,255.9 686.67,255.4 686.76,254.9 686.84,254.4 686.92,253.9 687.00,253.4 687.08,252.9 687.16,252.4 687.24,251.9 687.32,251.4 687.40,250.9 687.48,250.4 687.56,249.9 687.64,249.4 687.72,248.9 687.80,248.4 687.88,247.9 687.96,247.4 688.04,246.9 688.12,246.4 688.20,245.9 688.29,245.4 688.37,244.9 688.45,244.4 688.53,243.9 688.61,243.4 688.69,242.9 688.77,242.4 688.85,241.9 688.93,241.4 689.01,240.9 689.10,240.4 689.18,239.9 689.26,239.4 689.34,238.9 689.42,238.4 689.50,237.9 689.58,237.4 689.67,236.9 689.75,236.4 689.83,235.9 689.91,235.4 689.99,234.9 690.07,234.4 690.16,233.9 690.24,233.4 690.32,232.9 690.40,232.4 690.49,231.9 690.57,231.4 690.65,230.9 690.73,230.4 690.82,229.9 690.90,229.4 690.98,228.9 691.07,228.4 691.15,227.9 691.23,227.4 691.32,226.9 691.40,226.4 691.48,225.9 691.57,225.4 691.65,224.9 691.74,224.4 691.82,223.9 691.91,223.4 691.99,223.0 692.07,222.5 692.16,222.0 692.24,221.5 692.33,221.0 692.41,220.5 692.50,220.0 692.59,219.5 692.68,219.0 692.77,218.5 692.86,218.0 692.95,217.4 693.04,216.9 693.13,216.4 693.22,215.9 693.32,215.4 693.41,214.9 693.50,214.3 693.60,213.8 693.69,213.3 693.79,212.8 693.88,212.2 693.98,211.7 694.07,211.2 694.17,210.6 694.27,210.1 694.36,209.6 694.46,209.1 694.56,208.5 694.65,208.0 694.75,207.5 694.85,206.9 694.95,206.4 695.05,205.9 695.15,205.3 695.24,204.8 695.34,204.3 695.44,203.7 695.54,203.2 695.64,202.7 695.74,202.1 695.84,201.6 695.94,201.1 696.04,200.6 696.14,200.0 696.24,199.5 696.34,199.0 696.43,198.4 696.53,197.9 696.63,197.4 696.73,196.9 696.83,196.3 696.93,195.8 697.03,195.3 697.13,194.8 697.22,194.2 697.32,193.7 697.42,193.2 697.52,192.7 697.61,192.2 697.71,191.6 697.81,191.1 697.90,190.6 698.00,190.1 698.10,189.6 698.19,189.1 698.29,188.6 698.38,188.1 698.48,187.6 698.57,187.1 698.66,186.6 698.76,186.1 698.85,185.6 698.94,185.1 699.03,184.6 699.12,184.1 699.21,183.6 699.30,183.1 699.39,182.7 699.48,182.2 699.57,181.7 699.66,181.2 699.75,180.8 699.83,180.3 699.92,179.8 700.00,179.4 700.09,178.9 700.17,178.5 700.26,178.0 700.34,177.6 700.42,177.1 700.50,176.7 700.58,176.2 700.66,175.8 700.74,175.3 700.82,174.9 700.89,174.5 700.97,174.1 701.04,173.6 701.12,173.2 701.19,172.8 701.26,172.4 701.33,172.0 701.44,171.4 701.54,170.8 701.64,170.2 701.74,169.6 701.84,169.1 701.94,168.5 702.04,167.9 702.14,167.4 702.24,166.8 702.33,166.2 702.43,165.7 702.52,165.1 702.61,164.6 702.70,164.0 702.80,163.5 702.89,163.0 702.97,162.4 703.06,161.9 703.15,161.4 703.23,160.9 703.32,160.4 703.40,159.9 703.49,159.4 703.57,158.9 703.65,158.4 703.73,157.9 703.81,157.4 703.89,156.9 703.96,156.5 704.04,156.0 704.12,155.5 704.19,155.1 704.26,154.6 704.33,154.2 704.41,153.7 704.48,153.3 704.55,152.9 704.61,152.4 704.68,152.0 704.75,151.6 704.81,151.2 704.88,150.8 704.94,150.4 705.00,150.0 705.09,149.4 705.18,148.8 705.26,148.2 705.33,147.7 705.40,147.1 705.47,146.6 705.53,146.0 705.59,145.5 705.66,145.0 705.72,144.5 705.78,144.0 705.85,143.5 705.92,143.1 705.99,142.6 706.06,142.2 706.15,141.8 706.24,141.4 706.33,141.0 706.49,140.4 706.65,139.8 706.81,139.3 706.98,138.8 707.18,138.4 707.40,137.9 707.67,137.5 708.07,137.0 708.51,136.5 709.03,136.0 709.67,135.6 710.31,135.3 711.05,134.9 711.87,134.6 712.73,134.3 713.62,134.0 714.50,133.7 715.24,133.4 716.01,133.2 716.79,133.0 717.58,132.9 718.39,132.5 719.20,132.2 720.02,131.9 720.83,131.6 721.74,131.5 722.66,131.5 723.60,131.6 724.54,131.3 725.45,131.2 726.33,131.0 727.17,130.7 727.92,130.4 728.61,130.1 729.27,130.0 729.92,129.6 730.58,129.3 731.26,128.9 732.00,128.5 732.74,128.0 733.51,127.6 734.29,127.5 735.10,127.4 735.92,127.2 736.77,126.8 737.63,126.6 738.50,126.5 739.34,126.5 740.22,126.6 741.12,126.5 742.03,126.4 742.95,126.1 743.87,126.1 744.77,126.0 745.65,126.0 746.50,126.0 747.45,126.1 748.36,126.2 749.25,125.9 750.13,125.7 751.01,125.5 751.91,125.3 752.83,125.1 753.61,124.9 754.39,124.5 755.18,124.3 755.98,124.0 756.79,124.0 757.60,123.7 758.41,123.5 759.22,123.2 760.03,122.9 760.83,122.7 761.63,122.3 762.43,122.0 763.23,121.7 764.02,121.4 764.82,121.2 765.62,121.1 766.41,120.7 767.22,120.4 768.02,120.4 768.83,120.4 769.64,120.2 770.45,119.8 771.27,119.5 772.09,119.3 772.91,119.2 773.73,118.9 774.55,118.8 775.37,118.8 776.18,118.4 777.00,118.3 777.80,118.0 778.60,118.1 779.40,117.9 780.20,117.7 781.00,117.6 781.80,117.1 782.60,117.0 783.40,116.8 784.20,116.7 785.00,116.1 785.80,116.0 786.61,115.9 787.41,116.0 788.22,115.9 789.03,115.8 789.84,115.6 790.64,115.5 791.44,115.4 792.22,115.2 793.00,115.1 793.89,114.9 794.77,114.7 795.63,114.4 796.49,114.2 797.35,113.9 798.22,113.8 799.10,113.5 800.00,113.2 800.69,113.0 801.38,113.0 802.09,112.9 802.79,112.5 803.51,112.2 804.23,111.7 804.95,111.4 805.68,111.1 806.41,110.7 807.14,110.5 807.87,110.4 808.60,110.3 809.33,110.0 810.10,109.6 810.85,109.5 811.61,109.4 812.37,109.2 813.13,108.8 813.89,108.7 814.66,108.6 815.44,108.6 816.23,108.3 817.03,108.1 817.84,107.6 818.67,107.3 819.40,107.0 820.14,106.9 820.90,106.6 821.67,106.5 822.45,106.2 823.24,106.1 824.03,105.6 824.82,105.5 825.62,105.4 826.42,105.2 827.23,105.0 828.02,104.7 828.82,104.6 829.61,104.4 830.39,104.2 831.17,104.1 832.01,103.9 832.86,103.8 833.71,103.7 834.56,103.8 835.41,103.9 836.26,104.1 837.10,104.1 837.94,104.1 838.77,104.1 839.59,104.0 840.41,104.1 841.21,104.1 842.00,104.0 842.82,103.7 843.62,103.4 844.41,103.4 845.18,103.2 845.95,102.9 846.71,102.6 847.47,102.3 848.23,102.2 849.00,101.8 849.77,101.4 850.54,101.1 851.33,101.0 852.17,100.9 853.01,100.8 853.86,100.7 854.71,100.9 855.57,101.0 856.42,101.1 857.28,101.0 858.13,100.8 858.98,100.7 859.83,100.7 860.67,100.7 861.47,100.6 862.26,100.3 863.04,100.1 863.82,99.7 864.59,99.4 865.37,99.2 866.15,98.9 866.93,98.7 867.72,98.5 868.53,98.4 869.34,98.3 870.17,98.0 870.97,97.8 871.78,97.6 872.61,97.7 873.45,97.7 874.29,97.6 875.14,97.7 876.00,97.7 876.85,97.6 877.70,97.3 878.54,97.2 879.37,97.2 880.19,97.3 881.00,97.2 881.88,97.2 882.74,96.8 883.60,96.6 884.44,96.4 885.28,96.5 886.12,96.5 886.95,96.4 887.79,96.1 888.63,95.8 889.48,95.7 890.33,95.6 891.20,95.8 892.08,95.6 892.95,95.5 893.84,95.3 894.72,95.2 895.60,95.3 896.49,95.3 897.37,95.3 898.25,95.1 899.13,95.0 900.00,94.9 900.85,94.9 901.68,95.0 902.51,94.9 903.33,94.8 904.15,94.6 904.97,94.5 905.81,94.4 906.66,94.5 907.52,94.4 908.41,94.5 909.33,94.3 910.13,94.2 910.96,93.9 911.81,93.9 912.67,94.0 913.55,94.1 914.45,94.1 915.35,93.9 916.26,93.8 917.17,93.7 918.08,93.5 918.99,93.4 919.88,93.4 920.77,93.5 921.64,93.4 922.50,93.4 923.33,93.3 924.22,93.3 925.09,93.2 925.95,93.3 926.79,93.3 927.63,93.2 928.46,93.4 929.29,93.5 930.12,93.6 930.95,93.3 931.78,93.5 932.62,93.7 933.47,94.1 934.33,94.4 935.20,94.5 936.09,94.4 936.99,94.2 937.89,94.3 938.81,94.3 939.73,94.4 940.65,94.2 941.56,94.3 942.46,94.5 943.34,94.6 944.21,94.7 945.06,94.5 945.88,94.7 946.67,94.8 947.62,95.2 948.54,95.3 949.42,95.5 950.28,95.4 951.12,95.7 951.95,96.0 952.79,96.2 953.63,96.2 954.50,96.3 955.37,96.4 956.25,96.3 957.14,96.2 958.03,96.0 958.92,95.8 959.80,95.9 960.67,95.8 961.51,95.7 962.33,95.5 963.15,95.7 963.93,95.9 964.69,96.1 965.44,96.3 966.19,96.5 966.94,96.7 967.71,96.9 968.50,97.1 969.25,97.4 970.02,97.6 970.79,97.8 971.58,98.0 972.37,98.4 973.16,98.7 973.96,98.9 974.75,99.2 975.55,99.5 976.33,99.9" fill="none" stroke="#FF0000" stroke-width="3.2" stroke-linejoin="round" stroke-linecap="round"/>
<polyline transform="scale(0.6,1)" points="684.17,270.9 684.26,270.4 684.36,269.9 684.46,269.4 684.56,268.9 684.66,268.4 684.75,267.9 684.85,267.4 684.95,266.9 685.05,266.4 685.15,265.9 685.24,265.4 685.34,264.9 685.44,264.3 685.54,263.8 685.64,263.3 685.73,262.8 685.83,262.3 685.93,261.8 686.03,261.3 686.13,260.8 686.22,260.3 686.32,259.7 686.42,259.2 686.52,258.7 686.62,258.2 686.71,257.7 686.81,257.2 686.91,256.7 687.01,256.2 687.11,255.6 687.20,255.1 687.30,254.6 687.40,254.1 687.50,253.6 687.60,253.1 687.69,252.5 687.79,252.0 687.89,251.5 687.99,251.0 688.09,250.5 688.18,250.0 688.28,249.5 688.38,249.0 688.48,248.4 688.58,247.9 688.67,247.4 688.77,246.9 688.87,246.4 688.97,245.9 689.07,245.4 689.16,244.9 689.26,244.3 689.36,243.8 689.46,243.3 689.56,242.8 689.65,242.3 689.75,241.8 689.85,241.3 689.95,240.8 690.05,240.3 690.14,239.8 690.24,239.3 690.34,238.8 690.44,238.3 690.54,237.8 690.63,237.3 690.73,236.8 690.83,236.3 690.93,235.8 691.03,235.3 691.12,234.8 691.22,234.3 691.32,233.8 691.42,233.3 691.52,232.8 691.62,232.3 691.71,231.8 691.81,231.3 691.91,230.8 692.01,230.3 692.11,229.9 692.20,229.4 692.30,228.9 692.40,228.4 692.50,227.9 692.60,227.5 692.69,227.0 692.79,226.5 692.89,226.0 692.99,225.5 693.09,225.1 693.18,224.6 693.28,224.1 693.38,223.7 693.48,223.2 693.58,222.7 693.68,222.3 693.77,221.8 693.87,221.4 693.97,220.9 694.07,220.5 694.17,220.0 694.29,219.5 694.41,218.9 694.53,218.4 694.65,217.8 694.77,217.3 694.89,216.7 695.01,216.2 695.14,215.6 695.26,215.1 695.38,214.5 695.51,214.0 695.63,213.4 695.76,212.9 695.88,212.3 696.01,211.8 696.13,211.2 696.26,210.7 696.39,210.1 696.51,209.6 696.64,209.0 696.77,208.5 696.89,207.9 697.02,207.4 697.15,206.9 697.27,206.3 697.40,205.8 697.53,205.2 697.65,204.7 697.78,204.2 697.91,203.6 698.03,203.1 698.16,202.6 698.28,202.1 698.41,201.5 698.53,201.0 698.66,200.5 698.78,200.0 698.91,199.5 699.03,199.0 699.15,198.5 699.28,198.0 699.40,197.5 699.52,197.0 699.64,196.5 699.76,196.0 699.88,195.5 700.00,195.0 700.12,194.5 700.24,194.0 700.35,193.6 700.47,193.1 700.59,192.6 700.70,192.2 700.81,191.7 700.93,191.3 701.04,190.8 701.15,190.4 701.26,189.9 701.37,189.5 701.48,189.0 701.59,188.6 701.69,188.2 701.80,187.8 701.90,187.4 702.00,187.0 702.11,186.6 702.21,186.2 702.31,185.8 702.40,185.4 702.50,185.0 702.66,184.4 702.81,183.8 702.95,183.2 703.09,182.6 703.23,182.0 703.36,181.5 703.49,180.9 703.62,180.4 703.75,179.8 703.88,179.3 704.00,178.8 704.12,178.3 704.25,177.8 704.37,177.3 704.49,176.8 704.62,176.3 704.74,175.9 704.87,175.4 705.00,175.0 705.13,174.5 705.26,174.1 705.40,173.7 705.55,173.2 705.69,172.8 705.84,172.4 706.00,172.0 706.24,171.4 706.48,170.8 706.73,170.3 706.99,169.8 707.24,169.2 707.50,168.7 707.77,168.3 708.04,167.8 708.31,167.3 708.59,166.9 708.88,166.4 709.17,166.0 709.52,165.5 709.88,165.0 710.25,164.5 710.63,164.1 711.01,163.7 711.39,163.2 711.78,162.8 712.17,162.4 712.62,161.9 713.07,161.5 713.52,161.0 713.99,160.6 714.48,160.2 715.00,159.8 715.61,159.4 716.23,158.9 716.88,158.5 717.63,158.2 718.50,157.8 719.15,157.6 719.87,157.4 720.65,157.2 721.48,157.0 722.35,157.0 723.24,156.7 724.16,156.5 725.09,156.2 726.01,155.6 726.93,155.8 727.83,155.6 728.63,155.9 729.44,155.8 730.25,155.3 731.07,155.6 731.89,155.6 732.72,155.4 733.56,155.4 734.40,155.0 735.24,154.8 736.09,154.9 736.95,154.9 737.81,154.8 738.67,153.7 739.48,153.7 740.29,153.4 741.12,153.8 741.96,154.2 742.79,154.2 743.64,154.4 744.48,153.7 745.33,152.5 746.18,153.0 747.02,154.3 747.86,154.4 748.70,153.4 749.53,152.9 750.35,153.6 751.17,152.5 752.03,152.8 752.89,152.9 753.74,152.7 754.58,152.2 755.41,152.4 756.25,152.9 757.08,152.2 757.92,151.7 758.75,152.1 759.60,152.3 760.44,152.0 761.30,151.8 762.17,152.1 763.02,151.8 763.89,151.4 764.76,151.8 765.63,151.9 766.51,151.6 767.40,150.9 768.28,151.2 769.17,151.9 770.06,152.2 770.95,151.9 771.84,151.8 772.73,152.0 773.62,152.3 774.50,152.5 775.33,151.8 776.16,151.2 776.99,151.1 777.82,150.5 778.65,150.9 779.48,150.9 780.31,151.1 781.14,151.3 781.98,150.9 782.81,150.2 783.65,150.4 784.48,150.4 785.32,150.7 786.16,150.7 787.00,150.4 787.86,151.0 788.71,151.3 789.56,150.8 790.40,150.6 791.25,149.9 792.10,150.2 792.95,150.6 793.81,149.8 794.67,149.9 795.54,150.2 796.41,151.1 797.29,151.1 798.18,150.3 799.09,150.0 800.00,149.3 800.79,150.4 801.58,150.9 802.39,150.6 803.20,149.4 804.02,150.0 804.85,149.7 805.68,148.8 806.52,149.4 807.36,150.1 808.20,150.5 809.05,150.2 809.90,149.9 810.75,150.1 811.60,149.9 812.45,149.5 813.30,149.3 814.15,149.8 814.99,150.2 815.83,150.7 816.67,150.1 817.50,150.5 818.33,150.4 819.15,150.2 819.98,149.3 820.80,149.0 821.62,149.5 822.44,150.0 823.26,149.9 824.08,150.0 824.90,150.0 825.73,150.1 826.56,149.6 827.39,149.3 828.22,149.6 829.06,149.8 829.90,150.2 830.75,149.6 831.60,149.3 832.47,149.4 833.33,150.0 834.13,150.0 834.93,149.5 835.74,148.5 836.55,148.4 837.37,149.3 838.19,149.9 839.01,149.8 839.83,148.6 840.66,148.6 841.50,148.2 842.33,148.5 843.17,149.2 844.01,149.6 844.85,149.1 845.69,148.8 846.54,149.2 847.39,150.3 848.23,150.5 849.08,148.9 849.93,148.8 850.78,149.2 851.63,149.9 852.48,150.0 853.33,150.0 854.15,149.0 854.97,149.1 855.79,148.9 856.60,148.6 857.42,148.8 858.24,149.0 859.06,150.2 859.89,149.7 860.71,148.7 861.53,149.0 862.36,149.9 863.19,149.4 864.02,149.6 864.85,149.8 865.68,149.9 866.51,149.6 867.35,149.1 868.19,148.5 869.03,148.1 869.88,148.8 870.72,149.1 871.57,148.9 872.42,148.8 873.28,148.8 874.14,149.9 875.00,149.0 875.81,148.4 876.62,148.6 877.44,149.0 878.27,149.0 879.10,148.1 879.93,148.8 880.77,148.8 881.61,149.1 882.46,149.8 883.30,149.6 884.15,148.9 885.00,149.3 885.86,150.3 886.71,150.3 887.56,149.9 888.41,149.5 889.27,149.7 890.11,149.5 890.96,148.8 891.81,148.6 892.65,149.4 893.49,149.7 894.32,149.8 895.15,149.4 895.97,149.8 896.79,149.5 897.60,149.9 898.41,149.6 899.21,148.8 900.00,148.6 900.88,148.9 901.74,149.2 902.60,149.5 903.45,148.7 904.30,148.2 905.14,149.2 905.97,150.5 906.80,150.2 907.63,149.0 908.45,148.9 909.27,149.1 910.09,148.7 910.91,148.7 911.72,148.6 912.54,148.3 913.36,148.4 914.18,148.7 915.00,148.8 915.82,148.4 916.65,148.6 917.48,148.3 918.31,148.2 919.15,149.0 920.00,151.2 920.82,150.7 921.65,150.2 922.48,149.7 923.32,149.1 924.16,149.2 925.00,149.4 925.85,149.6 926.70,149.9 927.55,149.7 928.40,147.8 929.25,148.6 930.11,149.6 930.96,149.3 931.81,149.6 932.66,150.3 933.50,150.2 934.34,150.6 935.18,150.0 936.01,149.6 936.84,148.8 937.66,148.3 938.48,149.2 939.29,149.7 940.09,149.4 940.88,149.2 941.67,150.0 942.55,150.1 943.42,149.8 944.29,149.9 945.14,151.1 945.99,151.2 946.83,150.5 947.66,150.1 948.49,150.5 949.32,151.6 950.14,152.0 950.96,150.6 951.78,149.6 952.59,149.6 953.41,151.2 954.22,150.3 955.04,150.6 955.86,151.0 956.68,151.0 957.50,149.8 958.33,149.3 959.17,150.3 960.01,151.0 960.86,151.0 961.70,149.8 962.55,150.0 963.40,150.2 964.25,150.0 965.10,150.7 965.94,151.4 966.79,150.9 967.63,150.3 968.47,151.3 969.31,151.9 970.14,152.0 970.97,151.7 971.79,150.8 972.60,151.6 973.41,152.0 974.21,151.6 975.00,151.5 975.89,151.7 976.78,152.5 977.67,151.9 978.57,151.5 979.46,152.1 980.35,152.5 981.23,152.6 982.10,151.9 982.96,152.0 983.80,153.1 984.62,154.1 985.42,153.2 986.19,152.1 986.94,152.6 987.65,152.3 988.33,151.8 989.26,152.5 990.12,153.3 990.92,154.3 991.68,155.3 992.42,155.6 993.15,155.4 993.89,155.0 994.67,155.3" fill="none" stroke="#00B050" stroke-width="3.3" stroke-linejoin="round" stroke-linecap="round"/>
<polyline transform="scale(0.6,1)" points="684.17,270.9 684.26,270.4 684.36,269.9 684.46,269.4 684.55,268.9 684.65,268.4 684.75,267.9 684.85,267.4 684.94,266.9 685.04,266.3 685.14,265.8 685.24,265.3 685.33,264.8 685.43,264.3 685.53,263.8 685.63,263.2 685.72,262.7 685.82,262.2 685.92,261.7 686.02,261.2 686.12,260.6 686.21,260.1 686.31,259.6 686.41,259.0 686.51,258.5 686.61,258.0 686.70,257.5 686.80,256.9 686.90,256.4 687.00,255.9 687.10,255.3 687.19,254.8 687.29,254.3 687.39,253.7 687.49,253.2 687.59,252.7 687.69,252.2 687.78,251.6 687.88,251.1 687.98,250.6 688.08,250.0 688.18,249.5 688.28,249.0 688.37,248.4 688.47,247.9 688.57,247.4 688.67,246.8 688.77,246.3 688.87,245.8 688.96,245.2 689.06,244.7 689.16,244.2 689.26,243.7 689.36,243.1 689.45,242.6 689.55,242.1 689.65,241.6 689.75,241.0 689.85,240.5 689.94,240.0 690.04,239.5 690.14,238.9 690.24,238.4 690.33,237.9 690.43,237.4 690.53,236.9 690.63,236.4 690.72,235.9 690.82,235.3 690.92,234.8 691.02,234.3 691.11,233.8 691.21,233.3 691.31,232.8 691.40,232.3 691.50,231.8 691.60,231.3 691.69,230.8 691.79,230.3 691.89,229.8 691.98,229.3 692.08,228.9 692.18,228.4 692.27,227.9 692.37,227.4 692.46,226.9 692.56,226.5 692.65,226.0 692.75,225.5 692.84,225.0 692.94,224.6 693.03,224.1 693.13,223.6 693.22,223.2 693.32,222.7 693.41,222.3 693.51,221.8 693.60,221.4 693.70,220.9 693.79,220.5 693.88,220.0 693.98,219.6 694.07,219.2 694.17,218.7 694.26,218.3 694.35,217.9 694.45,217.5 694.54,217.0 694.63,216.6 694.72,216.2 694.82,215.8 694.91,215.4 695.00,215.0 695.14,214.4 695.28,213.8 695.41,213.2 695.55,212.6 695.69,212.0 695.82,211.5 695.96,210.9 696.10,210.3 696.23,209.7 696.37,209.2 696.50,208.6 696.64,208.1 696.77,207.5 696.91,207.0 697.04,206.4 697.17,205.9 697.31,205.3 697.44,204.8 697.58,204.3 697.71,203.7 697.84,203.2 697.98,202.7 698.11,202.2 698.24,201.7 698.37,201.2 698.51,200.7 698.64,200.2 698.77,199.7 698.90,199.2 699.04,198.7 699.17,198.2 699.30,197.7 699.43,197.3 699.56,196.8 699.69,196.3 699.83,195.9 699.96,195.4 700.09,195.0 700.22,194.5 700.35,194.1 700.48,193.7 700.61,193.2 700.75,192.8 700.88,192.4 701.01,192.0 701.14,191.6 701.27,191.2 701.40,190.8 701.54,190.4 701.67,190.0 701.88,189.4 702.08,188.8 702.29,188.2 702.50,187.7 702.71,187.1 702.91,186.6 703.12,186.0 703.32,185.5 703.53,185.0 703.74,184.5 703.94,184.0 704.15,183.6 704.36,183.1 704.56,182.6 704.77,182.2 704.98,181.7 705.19,181.3 705.41,180.9 705.62,180.4 705.83,180.0 706.13,179.4 706.42,178.9 706.72,178.3 707.02,177.8 707.32,177.2 707.62,176.7 707.92,176.2 708.23,175.8 708.54,175.3 708.85,174.9 709.17,174.5 709.65,174.0 710.15,173.5 710.65,173.0 711.15,172.6 711.67,172.2 712.32,171.7 712.98,171.3 713.83,170.9 714.52,170.7 715.31,170.5 716.18,170.4 717.11,170.3 718.07,170.2 719.05,170.1 720.00,170.1 720.80,170.2 721.59,170.0 722.38,170.1 723.18,170.2 724.01,169.8 724.87,169.5 725.79,169.6 726.77,169.8 727.83,169.9 728.46,169.3 729.13,168.9 729.83,169.3 730.55,169.3 731.31,169.2 732.09,169.3 732.90,169.4 733.73,169.4 734.58,168.9 735.44,168.8 736.32,168.9 737.21,169.0 738.11,169.3 739.02,169.2 739.93,169.0 740.84,169.3 741.76,169.1 742.67,169.1 743.58,169.0 744.48,168.7 745.37,168.6 746.26,168.6 747.12,168.3 747.97,168.5 748.81,168.8 749.62,168.6 750.40,168.5 751.17,168.9 752.10,168.5 753.01,168.6 753.90,168.7 754.76,168.7 755.61,168.3 756.45,168.3 757.28,168.4 758.10,168.6 758.92,168.5 759.73,168.4 760.55,168.6 761.38,168.8 762.22,168.6 763.07,168.4 763.94,168.1 764.82,168.1 765.73,168.0 766.67,168.3 767.42,168.1 768.20,167.8 769.00,167.7 769.81,167.9 770.63,168.0 771.47,167.9 772.32,167.9 773.18,167.8 774.04,167.8 774.91,167.9 775.79,168.1 776.67,168.3 777.56,168.1 778.44,167.9 779.32,168.3 780.20,168.3 781.08,168.0 781.95,168.0 782.81,167.7 783.67,167.5 784.51,167.7 785.34,168.1 786.16,168.0 786.97,167.9 787.75,167.8 788.52,167.7 789.27,167.9 790.00,168.1 790.94,168.2 791.84,167.8 792.73,168.1 793.59,167.9 794.44,167.5 795.27,168.0 796.09,168.3 796.90,168.2 797.70,168.0 798.50,167.7 799.29,167.4 800.09,167.8 800.89,167.8 801.69,167.6 802.51,167.8 803.33,167.9 804.16,168.3 804.99,167.7 805.81,167.4 806.63,167.3 807.45,167.6 808.27,167.9 809.09,167.9 809.91,167.8 810.73,168.1 811.56,168.1 812.39,168.2 813.23,167.8 814.07,167.5 814.93,167.7 815.79,167.7 816.67,168.0 817.46,167.8 818.26,167.8 819.07,167.8 819.88,167.5 820.70,167.8 821.53,168.0 822.36,167.8 823.20,167.8 824.04,167.8 824.88,167.7 825.73,167.7 826.58,167.9 827.43,167.8 828.28,167.8 829.12,167.7 829.97,167.4 830.82,167.6 831.66,168.3 832.50,168.3 833.33,168.0 834.17,168.1 835.00,168.2 835.83,168.1 836.67,167.7 837.50,167.4 838.33,167.5 839.17,167.9 840.00,168.4 840.83,168.5 841.67,168.1 842.50,168.0 843.33,168.5 844.17,168.6 845.00,168.1 845.83,168.2 846.67,168.2 847.50,168.1 848.33,168.1 849.17,168.2 850.00,168.2 850.83,168.0 851.66,168.3 852.49,168.6 853.31,168.7 854.13,168.7 854.95,168.6 855.77,168.7 856.59,169.0 857.41,168.7 858.24,168.7 859.06,168.9 859.89,168.6 860.72,168.3 861.55,168.4 862.39,168.5 863.24,168.6 864.08,168.7 864.94,169.0 865.80,169.1 866.67,169.0 867.46,168.9 868.27,169.1 869.08,169.4 869.89,169.4 870.71,168.9 871.54,168.9 872.37,169.2 873.20,168.8 874.03,168.9 874.87,169.0 875.71,168.9 876.55,168.8 877.40,168.8 878.24,168.8 879.09,169.2 879.93,169.0 880.78,169.0 881.62,169.1 882.47,169.1 883.31,169.2 884.15,169.2 884.99,169.0 885.83,169.0 886.67,168.8 887.50,168.7 888.32,168.8 889.15,168.7 889.97,168.7 890.78,168.9 891.60,169.3 892.41,169.3 893.23,169.1 894.04,169.2 894.86,169.5 895.67,169.7 896.49,169.0 897.31,169.0 898.13,169.0 898.96,169.4 899.79,169.3 900.63,169.3 901.47,169.4 902.31,169.2 903.17,168.5 904.03,168.8 904.90,169.1 905.78,169.0 906.67,169.4 907.44,169.6 908.23,169.1 909.02,169.2 909.82,169.7 910.63,170.0 911.44,169.9 912.26,169.7 913.09,169.4 913.92,169.5 914.75,169.6 915.59,169.5 916.43,169.7 917.27,169.6 918.12,169.7 918.97,170.2 919.82,170.1 920.67,170.2 921.52,169.9 922.38,169.7 923.23,169.6 924.09,169.9 924.94,170.3 925.79,170.0 926.64,169.7 927.49,170.2 928.33,170.0 929.18,170.0 930.02,170.0 930.85,170.0 931.68,170.6 932.51,170.8 933.33,170.5 934.18,170.5 935.02,170.4 935.87,170.3 936.71,170.4 937.55,170.2 938.39,170.4 939.23,170.7 940.06,171.1 940.90,170.7 941.73,171.1 942.56,171.2 943.40,171.0 944.23,171.0 945.06,171.5 945.89,171.6 946.72,171.2 947.55,171.2 948.38,171.4 949.21,171.7 950.03,171.3 950.86,171.4 951.69,171.6 952.52,171.3 953.35,171.5 954.18,171.8 955.01,171.6 955.84,171.5 956.67,171.4 957.50,171.7 958.33,171.6 959.17,171.8 960.01,172.0 960.86,172.0 961.71,172.4 962.56,172.5 963.42,172.5 964.28,172.6 965.14,172.3 966.00,172.0 966.86,172.6 967.72,172.8 968.58,172.5 969.44,172.6 970.30,173.0 971.16,172.8 972.01,172.8 972.86,173.0 973.70,173.5 974.54,172.9 975.38,172.5 976.21,173.0 977.03,172.9 977.85,172.9 978.66,173.3 979.46,173.5 980.26,173.7 981.04,173.7 981.82,174.1 982.58,174.1 983.33,174.0 984.25,174.3 985.15,174.6 986.05,174.3 986.94,173.9 987.81,174.2 988.68,174.5 989.54,174.7 990.40,174.7 991.24,174.8 992.08,174.7 992.90,174.7 993.72,174.8 994.53,174.9 995.34,175.0 996.13,175.1 996.92,174.9 997.70,174.9 998.48,175.3 999.24,175.4 1000.00,175.5 1000.90,175.8 1001.78,176.0 1002.65,176.3 1003.50,176.0 1004.33,176.4 1005.16,175.8 1005.97,175.9 1006.78,176.5 1007.59,176.6 1008.40,176.8 1009.21,176.9 1010.02,176.8 1010.84,176.9 1011.67,177.3" fill="none" stroke="#FFC000" stroke-width="3.3" stroke-linejoin="round" stroke-linecap="round"/>
<polyline transform="scale(0.6,1)" points="684.17,270.9 684.28,270.4 684.39,269.9 684.50,269.4 684.61,268.9 684.73,268.4 684.84,267.9 684.95,267.4 685.06,266.8 685.17,266.3 685.29,265.8 685.40,265.3 685.51,264.8 685.62,264.2 685.73,263.7 685.85,263.2 685.96,262.7 686.07,262.1 686.18,261.6 686.30,261.1 686.41,260.5 686.52,260.0 686.63,259.5 686.75,258.9 686.86,258.4 686.97,257.8 687.08,257.3 687.20,256.8 687.31,256.2 687.42,255.7 687.53,255.1 687.65,254.6 687.76,254.1 687.87,253.5 687.98,253.0 688.10,252.4 688.21,251.9 688.32,251.3 688.44,250.8 688.55,250.3 688.66,249.7 688.77,249.2 688.89,248.6 689.00,248.1 689.11,247.5 689.22,247.0 689.34,246.5 689.45,245.9 689.56,245.4 689.67,244.8 689.79,244.3 689.90,243.8 690.01,243.2 690.13,242.7 690.24,242.2 690.35,241.6 690.46,241.1 690.57,240.6 690.69,240.0 690.80,239.5 690.91,239.0 691.02,238.5 691.14,237.9 691.25,237.4 691.36,236.9 691.47,236.4 691.59,235.8 691.70,235.3 691.81,234.8 691.92,234.3 692.03,233.8 692.14,233.3 692.26,232.8 692.37,232.3 692.48,231.8 692.59,231.3 692.70,230.8 692.81,230.3 692.93,229.8 693.04,229.3 693.15,228.8 693.26,228.3 693.37,227.8 693.48,227.4 693.59,226.9 693.70,226.4 693.82,225.9 693.93,225.5 694.04,225.0 694.15,224.6 694.26,224.1 694.37,223.6 694.48,223.2 694.59,222.7 694.70,222.3 694.81,221.9 694.92,221.4 695.03,221.0 695.14,220.6 695.25,220.1 695.36,219.7 695.47,219.3 695.58,218.9 695.69,218.5 695.80,218.1 695.91,217.7 696.01,217.3 696.12,216.9 696.23,216.5 696.34,216.1 696.45,215.7 696.56,215.4 696.67,215.0 696.85,214.4 697.04,213.7 697.23,213.1 697.42,212.5 697.61,211.9 697.80,211.3 697.99,210.7 698.19,210.1 698.38,209.5 698.57,209.0 698.76,208.4 698.95,207.8 699.14,207.3 699.34,206.7 699.53,206.2 699.72,205.6 699.91,205.1 700.10,204.6 700.29,204.1 700.47,203.6 700.66,203.1 700.85,202.6 701.04,202.1 701.22,201.7 701.40,201.2 701.59,200.7 701.77,200.3 701.95,199.9 702.13,199.4 702.31,199.0 702.48,198.6 702.66,198.2 702.83,197.8 703.00,197.4 703.17,197.1 703.34,196.7 703.50,196.3 703.67,196.0 703.98,195.4 704.29,194.8 704.60,194.2 704.89,193.7 705.19,193.2 705.48,192.7 705.77,192.3 706.07,191.9 706.36,191.4 706.67,191.0 707.07,190.4 707.48,189.9 707.89,189.4 708.30,188.8 708.73,188.4 709.17,187.9 709.64,187.4 710.12,187.0 710.62,186.6 711.13,186.2 711.67,185.8 712.42,185.3 713.21,184.9 714.17,184.6 714.83,184.4 715.54,184.3 716.32,184.1 717.15,184.0 718.04,183.9 718.99,183.8 720.00,183.6 720.68,183.6 721.40,183.7 722.17,183.6 722.96,183.5 723.80,183.6 724.65,183.3 725.54,183.0 726.44,182.8 727.35,183.1 728.28,183.1 729.22,183.0 730.16,183.3 731.10,183.3 732.04,183.0 732.97,182.7 733.89,182.8 734.79,182.7 735.67,182.3 736.52,182.5 737.37,182.5 738.22,182.3 739.05,182.7 739.89,183.0 740.72,182.7 741.55,182.4 742.39,182.4 743.22,182.6 744.06,182.4 744.91,182.4 745.77,182.4 746.63,182.5 747.51,182.6 748.40,182.2 749.31,182.5 750.23,182.4 751.17,182.2 751.92,182.0 752.68,182.2 753.45,182.0 754.23,181.6 755.01,181.7 755.81,181.8 756.61,181.9 757.41,181.9 758.23,182.0 759.05,182.4 759.87,182.4 760.70,182.2 761.54,182.4 762.38,182.6 763.23,182.2 764.08,181.8 764.93,182.1 765.79,182.2 766.65,181.9 767.51,182.0 768.38,182.2 769.25,182.3 770.12,182.2 771.00,182.0 771.87,181.9 772.75,181.9 773.62,182.1 774.50,182.1 775.31,181.8 776.12,181.8 776.93,182.1 777.75,182.1 778.57,181.7 779.40,181.6 780.23,181.9 781.06,182.1 781.90,182.2 782.74,182.0 783.58,181.7 784.43,181.8 785.28,181.8 786.13,182.0 786.98,182.4 787.83,182.2 788.69,182.0 789.55,182.0 790.41,182.2 791.27,182.3 792.13,182.1 792.99,182.0 793.85,181.9 794.72,181.9 795.58,182.0 796.45,182.2 797.31,182.1 798.17,182.0 799.03,181.8 799.90,182.1 800.76,182.3 801.62,182.4 802.48,182.1 803.33,181.8 804.16,181.7 804.98,182.0 805.81,182.2 806.63,182.2 807.46,181.9 808.28,182.1 809.11,182.4 809.93,182.3 810.75,182.2 811.58,182.1 812.41,181.9 813.23,181.9 814.06,182.2 814.88,182.6 815.71,182.6 816.54,182.4 817.37,182.4 818.20,182.5 819.03,182.5 819.86,182.3 820.69,182.4 821.52,182.5 822.36,182.2 823.19,182.3 824.03,182.4 824.87,182.5 825.71,182.6 826.55,182.6 827.39,182.7 828.24,182.8 829.08,182.7 829.93,182.8 830.78,182.5 831.63,182.4 832.48,182.5 833.33,182.3 834.15,182.1 834.96,182.3 835.78,182.6 836.60,182.4 837.42,182.4 838.24,182.9 839.06,182.8 839.89,182.6 840.72,182.5 841.54,182.6 842.37,182.6 843.20,182.7 844.04,182.7 844.87,182.6 845.71,182.7 846.54,182.5 847.38,182.5 848.21,182.6 849.05,182.8 849.89,183.0 850.73,182.8 851.57,182.6 852.41,183.0 853.25,182.9 854.09,182.8 854.93,182.8 855.77,182.9 856.61,183.1 857.45,183.0 858.29,183.0 859.13,183.2 859.97,183.2 860.81,182.8 861.65,182.6 862.49,182.5 863.33,182.6 864.16,183.0 865.00,183.1 865.83,183.1 866.67,183.2 867.50,183.3 868.34,183.5 869.18,183.5 870.02,183.2 870.86,183.5 871.70,183.5 872.55,183.2 873.39,183.2 874.24,183.1 875.09,183.0 875.94,183.1 876.78,183.1 877.63,183.2 878.48,183.2 879.33,183.3 880.18,183.6 881.03,183.5 881.87,183.4 882.72,183.5 883.57,183.7 884.41,183.7 885.25,183.6 886.10,183.7 886.93,183.6 887.77,183.6 888.61,183.9 889.44,183.9 890.27,183.9 891.10,183.7 891.93,183.5 892.75,183.8 893.57,183.9 894.39,184.0 895.20,184.2 896.01,184.1 896.82,184.3 897.62,184.2 898.42,183.9 899.21,183.8 900.00,183.9 900.88,184.0 901.74,184.1 902.60,184.0 903.46,184.0 904.30,184.5 905.14,184.3 905.98,184.3 906.81,184.5 907.63,184.2 908.45,183.9 909.27,184.2 910.09,184.3 910.90,184.3 911.71,184.1 912.53,184.3 913.34,184.6 914.15,184.8 914.96,184.7 915.77,184.7 916.58,184.5 917.40,184.4 918.22,184.4 919.04,184.8 919.86,184.9 920.69,184.8 921.53,184.4 922.37,184.3 923.21,184.6 924.07,185.0 924.92,184.8 925.79,184.6 926.67,184.7 927.46,184.9 928.25,184.8 929.05,184.8 929.85,184.8 930.66,184.9 931.47,185.3 932.28,185.1 933.10,185.2 933.92,185.4 934.74,185.2 935.57,185.1 936.40,185.2 937.23,185.3 938.06,185.3 938.90,185.3 939.74,185.3 940.58,185.6 941.42,185.8 942.26,185.6 943.11,185.7 943.95,185.6 944.80,185.4 945.64,185.5 946.49,185.7 947.34,185.6 948.19,185.8 949.04,186.0 949.89,186.2 950.73,186.0 951.58,186.3 952.43,186.5 953.28,186.3 954.12,186.2 954.97,186.3 955.81,186.3 956.65,186.4 957.49,186.5 958.33,186.5 959.17,186.6 960.00,186.7 960.83,186.6 961.67,186.6 962.50,186.7 963.33,186.5 964.17,186.3 965.00,186.6 965.84,186.7 966.67,186.6 967.50,186.6 968.34,186.9 969.17,187.0 970.00,187.2 970.84,187.4 971.67,187.5 972.50,187.5 973.34,187.6 974.17,187.6 975.00,187.5 975.84,187.7 976.67,187.7 977.50,187.3 978.34,187.3 979.17,187.8 980.00,188.0 980.84,187.8 981.67,187.5 982.50,187.6 983.34,187.9 984.17,188.0 985.00,188.0 985.84,188.1 986.67,188.2 987.50,188.3 988.34,188.1 989.17,188.2 990.00,188.5 990.83,188.3 991.67,188.3 992.50,188.6 993.33,188.9 994.17,188.9 995.02,188.9 995.87,188.7 996.74,188.8 997.61,189.0 998.48,189.0 999.36,188.8 1000.24,188.7 1001.13,189.2 1002.02,189.4 1002.92,189.3 1003.81,189.0 1004.71,189.0 1005.60,189.2 1006.50,189.4 1007.39,189.6 1008.29,189.5 1009.18,189.5 1010.06,189.5 1010.95,189.5 1011.82,190.0 1012.70,190.0 1013.56,189.9 1014.42,189.9 1015.27,189.9 1016.12,190.3 1016.95,190.1 1017.78,189.9 1018.59,190.1 1019.40,190.5 1020.19,190.6 1020.97,190.8 1021.73,190.8 1022.49,190.8 1023.22,190.9 1023.95,190.6 1024.65,190.9 1025.34,191.1 1026.01,191.1 1026.67,191.1 1027.67,191.1 1028.63,191.0 1029.54,191.0 1030.43,191.4 1031.28,191.8 1032.11,192.0 1032.92,191.7 1033.71,191.7 1034.50,191.8 1035.27,192.0 1036.04,192.2 1036.81,192.4 1037.59,192.5 1038.38,192.1 1039.18,192.2 1040.00,192.4" fill="none" stroke="#0070C0" stroke-width="3.1" stroke-linejoin="round" stroke-linecap="round"/>
<line x1="602.9" y1="24.6" x2="633.3" y2="24.6" stroke="#000000" stroke-width="3.1"/>
<text transform="translate(635.0,31.5) scale(0.1440,0.2400)" text-anchor="start" font-size="100">27 C</text>
<line x1="602.9" y1="56.0" x2="633.3" y2="56.0" stroke="#FF0000" stroke-width="3.1"/>
<text transform="translate(635.0,62.9) scale(0.1440,0.2400)" text-anchor="start" font-size="100">150 C</text>
<line x1="602.9" y1="87.0" x2="633.3" y2="87.0" stroke="#00B050" stroke-width="3.1"/>
<text transform="translate(635.0,93.9) scale(0.1440,0.2400)" text-anchor="start" font-size="100">250 C</text>
<line x1="602.9" y1="119.0" x2="633.3" y2="119.0" stroke="#FFC000" stroke-width="3.1"/>
<text transform="translate(635.0,125.9) scale(0.1440,0.2400)" text-anchor="start" font-size="100">350 C</text>
<line x1="602.9" y1="150.2" x2="633.3" y2="150.2" stroke="#0070C0" stroke-width="3.1"/>
<text transform="translate(635.0,157.1) scale(0.1440,0.2400)" text-anchor="start" font-size="100">450 C</text>
<text transform="translate(542.7,332.8) scale(0.1440,0.2400)" text-anchor="middle" font-size="100">Strain</text>
<text transform="translate(373.3,145.9) rotate(-90) scale(1,0.64)" text-anchor="middle" font-size="24.2" style="stroke:none">Stress (MPa)</text>
<text transform="translate(556.2,410.0) scale(0.1740,0.2900)" text-anchor="middle" font-size="100">(b)</text>
</svg></div>
</body></html>
